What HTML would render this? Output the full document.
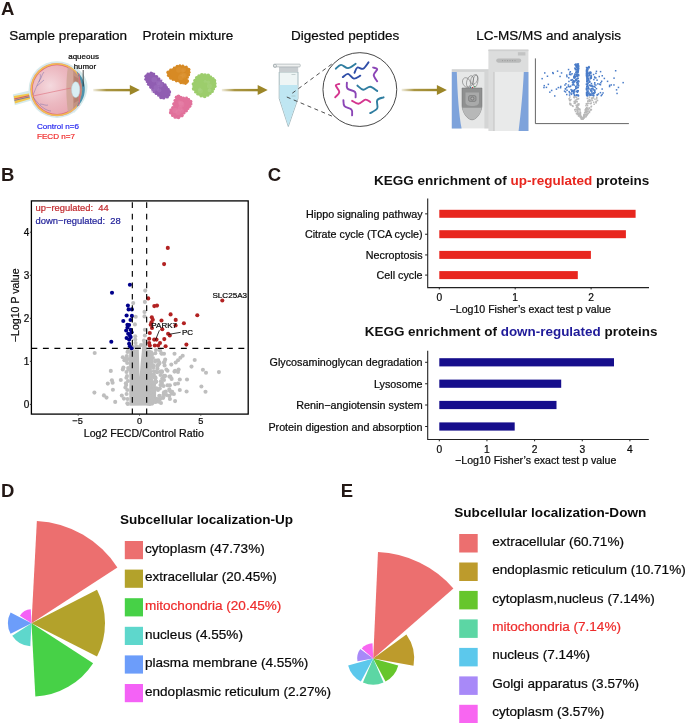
<!DOCTYPE html>
<html><head><meta charset="utf-8"><style>
html,body{margin:0;padding:0;background:#fff;}
svg{display:block;font-family:"Liberation Sans", sans-serif;will-change:transform;}
</style></head><body>
<svg width="685" height="723" viewBox="0 0 685 723">
<rect width="685" height="723" fill="#fff"/>
<text x="1.00" y="14.50" font-size="18.5" fill="#231815" font-weight="bold" text-anchor="start" >A</text>
<text x="9.20" y="40.40" font-size="13.5" fill="#0a0a0a" font-weight="normal" text-anchor="start" stroke="#0a0a0a" stroke-width="0.22" >Sample preparation</text>
<text x="142.60" y="40.40" font-size="13.5" fill="#0a0a0a" font-weight="normal" text-anchor="start" stroke="#0a0a0a" stroke-width="0.22" >Protein mixture</text>
<text x="291.10" y="40.40" font-size="13.5" fill="#0a0a0a" font-weight="normal" text-anchor="start" stroke="#0a0a0a" stroke-width="0.22" >Digested peptides</text>
<text x="476.30" y="40.40" font-size="13.5" fill="#0a0a0a" font-weight="normal" text-anchor="start" stroke="#0a0a0a" stroke-width="0.22" >LC-MS/MS and analysis</text>
<defs><linearGradient id="arrg" x1="0" x2="1" y1="0" y2="0"><stop offset="0" stop-color="#a08a2e" stop-opacity="0.15"/><stop offset="0.35" stop-color="#a08a2e" stop-opacity="0.9"/><stop offset="1" stop-color="#9c8628"/></linearGradient></defs>
<rect x="93.2" y="88.9" width="37.6" height="2.4" fill="url(#arrg)"/>
<path d="M129.8,85.1 L139.8,90.1 L129.8,95.1 Z" fill="#9c8628"/>
<rect x="221.8" y="88.9" width="36.9" height="2.4" fill="url(#arrg)"/>
<path d="M257.7,85.1 L267.7,90.1 L257.7,95.1 Z" fill="#9c8628"/>
<rect x="401.6" y="88.8" width="36.3" height="2.4" fill="url(#arrg)"/>
<path d="M436.9,85.0 L446.9,90.0 L436.9,95.0 Z" fill="#9c8628"/>
<defs><radialGradient id="eyeg" cx="0.36" cy="0.42" r="0.62"><stop offset="0" stop-color="#f4d9de"/><stop offset="0.6" stop-color="#ecb9c1"/><stop offset="1" stop-color="#e8aab4"/></radialGradient><clipPath id="eyeclip"><circle cx="57.0" cy="89.6" r="25.2"/></clipPath></defs>
<path d="M12.8,94.6 L29.5,90.6 L32,100.2 L14.8,105.2 Z" fill="#d6eaeb"/>
<path d="M13.8,96.1 L30.5,93.2 L31.6,98.4 L15,103.4 Z" fill="#f3c64c"/>
<line x1="14.2" y1="99.0" x2="31" y2="95.2" stroke="#cc5a72" stroke-width="1.1"/>
<line x1="14.4" y1="100.4" x2="31" y2="96.6" stroke="#5d5fb0" stroke-width="0.8"/>
<path d="M74,66 C84,72 89,82 87.2,90 C86,99 81,106 74,113 Z" fill="#d6eaeb"/>
<circle cx="57.0" cy="89.6" r="28.4" fill="#d6eaeb"/>
<circle cx="57.0" cy="89.6" r="26.7" fill="#e88890"/>
<circle cx="57.0" cy="89.6" r="26.3" fill="#f2c44c"/>
<path d="M57.0,89.6 m22,-13 a25.5,25.5 0 0 1 0,26 Z" fill="#e27680"/>
<circle cx="57.0" cy="89.6" r="25.0" fill="#e06c78"/>
<circle cx="57.0" cy="89.6" r="24.3" fill="url(#eyeg)"/>
<path d="M76.5,71 C82,76 85.3,83 84.8,90 C84.4,97 82,102 76.5,107.5 C80,100 80.5,80 76.5,71 Z" fill="#4d93ad"/>
<g clip-path="url(#eyeclip)"><path d="M69,62 C65.5,75 65.5,103 69,117 L90,117 L90,62 Z" fill="#cfa496" opacity="0.85"/><path d="M74,62 C72.5,75 72.5,103 74,117 L90,117 L90,62 Z" fill="#b98572" opacity="0.6"/><path d="M74,76 L78.5,78.5 L78.5,82 L74.5,82.5 Z M74,103 L78.5,100.5 L78.5,97 L74.5,96.5 Z" fill="#a87060" opacity="0.5"/></g>
<path d="M78.6,73 C80.5,80 80.5,99 78.6,106" stroke="#e06a78" stroke-width="1" fill="none"/>
<ellipse cx="75.7" cy="89.7" rx="4.1" ry="7.9" fill="#d9edf3" stroke="#b5d4de" stroke-width="0.5"/>
<path d="M33,96 L71,88" stroke="#dd6474" stroke-width="0.55" fill="none"/>
<path d="M33,95 C36,88 38,82 41,78 C42,75 43,73 44,72 M37,86 C39,84 42,82 44,80 M39,82 C40,79 41,76 40,74 M33,97 C37,102 40,106 45,109 C47,110 49,111 51,111 M40,104 C43,104 46,106 48,105" stroke="#6b62a8" stroke-width="0.5" fill="none" opacity="0.85"/>
<text x="68.20" y="58.90" font-size="8.0" fill="#0a0a0a" font-weight="normal" text-anchor="start" stroke="#0a0a0a" stroke-width="0.22" >aqueous</text>
<text x="73.70" y="68.70" font-size="7.9" fill="#0a0a0a" font-weight="normal" text-anchor="start" stroke="#0a0a0a" stroke-width="0.22" >humor</text>
<line x1="83.2" y1="70" x2="83.2" y2="86.5" stroke="#222" stroke-width="0.8"/>
<text x="37.00" y="129.00" font-size="8.1" fill="#2e2ef0" font-weight="normal" text-anchor="start" stroke="#2e2ef0" stroke-width="0.22" >Control n=6</text>
<text x="37.00" y="138.80" font-size="8.1" fill="#f02e2e" font-weight="normal" text-anchor="start" stroke="#f02e2e" stroke-width="0.22" >FECD n=7</text>
<path d="M146.4,74.3 L152.5,72.6 L157.8,78.0 L163.9,84.1 L169.3,90.6 L168.8,96.1 L162.1,98.5 L157.2,94.4 L151.9,88.5 L147.5,82.9 L145.6,78.0 Z" fill="#905db2" stroke="#905db2" stroke-width="0.8" stroke-linejoin="round"/>
<circle cx="147.9" cy="73.9" r="1.4" fill="#905db2"/>
<circle cx="151.0" cy="73.1" r="1.6" fill="#905db2"/>
<circle cx="153.8" cy="74.0" r="1.5" fill="#905db2"/>
<circle cx="156.5" cy="76.6" r="1.7" fill="#905db2"/>
<circle cx="158.8" cy="79.0" r="1.7" fill="#905db2"/>
<circle cx="160.9" cy="81.0" r="1.3" fill="#905db2"/>
<circle cx="162.9" cy="83.1" r="1.2" fill="#905db2"/>
<circle cx="164.8" cy="85.2" r="1.9" fill="#905db2"/>
<circle cx="166.6" cy="87.4" r="1.4" fill="#905db2"/>
<circle cx="168.4" cy="89.5" r="1.4" fill="#905db2"/>
<circle cx="169.2" cy="92.0" r="2.0" fill="#905db2"/>
<circle cx="168.9" cy="94.8" r="1.6" fill="#905db2"/>
<circle cx="167.1" cy="96.7" r="1.9" fill="#905db2"/>
<circle cx="163.8" cy="97.9" r="1.6" fill="#905db2"/>
<circle cx="160.9" cy="97.5" r="1.7" fill="#905db2"/>
<circle cx="158.4" cy="95.4" r="1.3" fill="#905db2"/>
<circle cx="156.3" cy="93.4" r="1.7" fill="#905db2"/>
<circle cx="154.5" cy="91.4" r="1.9" fill="#905db2"/>
<circle cx="152.8" cy="89.5" r="1.6" fill="#905db2"/>
<circle cx="150.8" cy="87.1" r="1.8" fill="#905db2"/>
<circle cx="148.6" cy="84.3" r="1.7" fill="#905db2"/>
<circle cx="147.0" cy="81.7" r="1.3" fill="#905db2"/>
<circle cx="146.1" cy="79.2" r="1.8" fill="#905db2"/>
<circle cx="146.0" cy="76.2" r="1.7" fill="#905db2"/>
<circle cx="154.2" cy="79.7" r="2.8" fill="#a57ac6" opacity="0.35"/>
<circle cx="156.3" cy="87.9" r="2.8" fill="#a57ac6" opacity="0.35"/>
<circle cx="159.2" cy="90.3" r="2.1" fill="#a57ac6" opacity="0.35"/>
<circle cx="160.2" cy="84.6" r="2.9" fill="#a57ac6" opacity="0.35"/>
<circle cx="161.2" cy="80.5" r="1.7" fill="#a57ac6" opacity="0.35"/>
<circle cx="153.2" cy="90.9" r="2.2" fill="#a57ac6" opacity="0.35"/>
<circle cx="158.2" cy="82.9" r="2.3" fill="#a57ac6" opacity="0.35"/>
<path d="M168.4,71.2 L172.7,68.4 L178.5,65.5 L184.2,66.0 L188.4,68.2 L188.9,73.6 L187.0,78.7 L188.0,83.0 L183.1,84.0 L178.5,81.9 L174.0,80.3 L169.8,77.0 L167.8,73.5 Z" fill="#d78a24" stroke="#d78a24" stroke-width="0.8" stroke-linejoin="round"/>
<circle cx="170.6" cy="69.8" r="1.4" fill="#d78a24"/>
<circle cx="174.2" cy="67.7" r="1.3" fill="#d78a24"/>
<circle cx="177.1" cy="66.2" r="1.5" fill="#d78a24"/>
<circle cx="179.9" cy="65.6" r="1.3" fill="#d78a24"/>
<circle cx="182.8" cy="65.9" r="1.3" fill="#d78a24"/>
<circle cx="186.3" cy="67.1" r="1.5" fill="#d78a24"/>
<circle cx="188.6" cy="69.6" r="1.9" fill="#d78a24"/>
<circle cx="188.8" cy="72.2" r="1.8" fill="#d78a24"/>
<circle cx="188.4" cy="74.8" r="1.8" fill="#d78a24"/>
<circle cx="187.5" cy="77.4" r="1.4" fill="#d78a24"/>
<circle cx="187.5" cy="80.9" r="1.6" fill="#d78a24"/>
<circle cx="185.5" cy="83.5" r="1.4" fill="#d78a24"/>
<circle cx="180.8" cy="83.0" r="1.3" fill="#d78a24"/>
<circle cx="176.3" cy="81.1" r="1.3" fill="#d78a24"/>
<circle cx="172.9" cy="79.5" r="1.4" fill="#d78a24"/>
<circle cx="170.8" cy="77.8" r="1.9" fill="#d78a24"/>
<circle cx="168.8" cy="75.3" r="1.9" fill="#d78a24"/>
<circle cx="168.1" cy="72.4" r="1.8" fill="#d78a24"/>
<circle cx="182.8" cy="71.0" r="2.0" fill="#e09a40" opacity="0.35"/>
<circle cx="180.7" cy="77.5" r="2.8" fill="#e09a40" opacity="0.35"/>
<circle cx="183.7" cy="69.8" r="2.4" fill="#e09a40" opacity="0.35"/>
<circle cx="181.2" cy="74.8" r="1.8" fill="#e09a40" opacity="0.35"/>
<circle cx="178.9" cy="69.8" r="2.9" fill="#e09a40" opacity="0.35"/>
<circle cx="183.6" cy="75.3" r="2.0" fill="#e09a40" opacity="0.35"/>
<circle cx="184.1" cy="75.6" r="2.8" fill="#e09a40" opacity="0.35"/>
<path d="M194.0,81.8 L197.5,76.5 L203.4,74.7 L209.8,75.8 L214.0,79.4 L215.2,84.7 L213.3,90.5 L209.2,94.6 L203.4,97.1 L198.7,95.3 L194.6,91.1 L192.8,86.4 Z" fill="#9ccd6c" stroke="#9ccd6c" stroke-width="0.8" stroke-linejoin="round"/>
<circle cx="194.9" cy="80.5" r="1.7" fill="#9ccd6c"/>
<circle cx="196.7" cy="77.8" r="1.8" fill="#9ccd6c"/>
<circle cx="199.0" cy="76.0" r="1.8" fill="#9ccd6c"/>
<circle cx="201.9" cy="75.1" r="2.0" fill="#9ccd6c"/>
<circle cx="205.0" cy="75.0" r="1.8" fill="#9ccd6c"/>
<circle cx="208.2" cy="75.5" r="1.9" fill="#9ccd6c"/>
<circle cx="210.9" cy="76.7" r="1.2" fill="#9ccd6c"/>
<circle cx="213.0" cy="78.5" r="1.6" fill="#9ccd6c"/>
<circle cx="214.3" cy="80.7" r="2.0" fill="#9ccd6c"/>
<circle cx="214.9" cy="83.4" r="1.7" fill="#9ccd6c"/>
<circle cx="214.7" cy="86.2" r="1.9" fill="#9ccd6c"/>
<circle cx="213.8" cy="89.1" r="1.3" fill="#9ccd6c"/>
<circle cx="212.3" cy="91.5" r="1.6" fill="#9ccd6c"/>
<circle cx="210.3" cy="93.6" r="1.4" fill="#9ccd6c"/>
<circle cx="207.8" cy="95.2" r="1.6" fill="#9ccd6c"/>
<circle cx="204.8" cy="96.5" r="1.7" fill="#9ccd6c"/>
<circle cx="201.0" cy="96.2" r="1.2" fill="#9ccd6c"/>
<circle cx="197.7" cy="94.2" r="1.4" fill="#9ccd6c"/>
<circle cx="195.6" cy="92.2" r="1.4" fill="#9ccd6c"/>
<circle cx="193.7" cy="88.8" r="1.9" fill="#9ccd6c"/>
<circle cx="193.4" cy="84.1" r="1.8" fill="#9ccd6c"/>
<circle cx="199.7" cy="89.2" r="1.7" fill="#b0d88a" opacity="0.35"/>
<circle cx="205.2" cy="81.2" r="1.5" fill="#b0d88a" opacity="0.35"/>
<circle cx="208.3" cy="82.2" r="1.8" fill="#b0d88a" opacity="0.35"/>
<circle cx="209.6" cy="90.1" r="1.9" fill="#b0d88a" opacity="0.35"/>
<circle cx="209.4" cy="86.1" r="2.5" fill="#b0d88a" opacity="0.35"/>
<circle cx="200.3" cy="90.9" r="2.5" fill="#b0d88a" opacity="0.35"/>
<circle cx="209.4" cy="90.4" r="1.9" fill="#b0d88a" opacity="0.35"/>
<path d="M177.3,95.7 L182.0,98.3 L188.0,98.0 L191.6,102.7 L188.9,107.5 L185.3,111.9 L180.9,116.8 L176.1,118.2 L171.5,114.5 L169.7,111.0 L173.7,106.3 L174.1,101.9 Z" fill="#e1719b" stroke="#e1719b" stroke-width="0.8" stroke-linejoin="round"/>
<circle cx="178.5" cy="96.3" r="1.8" fill="#e1719b"/>
<circle cx="180.8" cy="97.6" r="1.9" fill="#e1719b"/>
<circle cx="183.5" cy="98.2" r="1.6" fill="#e1719b"/>
<circle cx="186.5" cy="98.0" r="1.4" fill="#e1719b"/>
<circle cx="188.9" cy="99.2" r="1.2" fill="#e1719b"/>
<circle cx="190.7" cy="101.5" r="1.7" fill="#e1719b"/>
<circle cx="190.9" cy="103.9" r="1.6" fill="#e1719b"/>
<circle cx="189.6" cy="106.3" r="1.8" fill="#e1719b"/>
<circle cx="188.0" cy="108.6" r="1.5" fill="#e1719b"/>
<circle cx="186.2" cy="110.8" r="1.8" fill="#e1719b"/>
<circle cx="184.2" cy="113.1" r="1.4" fill="#e1719b"/>
<circle cx="182.0" cy="115.6" r="1.8" fill="#e1719b"/>
<circle cx="178.5" cy="117.5" r="1.8" fill="#e1719b"/>
<circle cx="175.0" cy="117.3" r="1.5" fill="#e1719b"/>
<circle cx="172.6" cy="115.4" r="1.6" fill="#e1719b"/>
<circle cx="170.6" cy="112.8" r="1.7" fill="#e1719b"/>
<circle cx="170.7" cy="109.8" r="1.4" fill="#e1719b"/>
<circle cx="172.7" cy="107.5" r="1.6" fill="#e1719b"/>
<circle cx="173.9" cy="104.1" r="1.8" fill="#e1719b"/>
<circle cx="174.9" cy="100.3" r="1.4" fill="#e1719b"/>
<circle cx="176.5" cy="97.2" r="1.8" fill="#e1719b"/>
<circle cx="182.1" cy="111.0" r="2.0" fill="#e888ac" opacity="0.35"/>
<circle cx="175.0" cy="110.5" r="2.7" fill="#e888ac" opacity="0.35"/>
<circle cx="179.3" cy="102.0" r="1.8" fill="#e888ac" opacity="0.35"/>
<circle cx="181.5" cy="104.4" r="2.9" fill="#e888ac" opacity="0.35"/>
<circle cx="181.0" cy="103.3" r="2.5" fill="#e888ac" opacity="0.35"/>
<circle cx="178.2" cy="112.1" r="2.9" fill="#e888ac" opacity="0.35"/>
<circle cx="180.1" cy="108.6" r="2.5" fill="#e888ac" opacity="0.35"/>
<path d="M279.2,72 L298,72 L298,98.5 L288.3,126.5 L279.2,98.5 Z" fill="#eef5f5" stroke="#93a9b0" stroke-width="0.8"/>
<path d="M279.6,85.1 L297.6,85.1 L297.6,98.5 L288.3,125.8 L279.6,98.5 Z" fill="#bfe6f2"/>
<rect x="279" y="66.9" width="19.2" height="5.2" fill="#c8cdd0"/>
<rect x="273.5" y="64.1" width="26.8" height="2.8" rx="1" fill="#eef0f0" stroke="#9aa4a8" stroke-width="0.6"/>
<circle cx="275" cy="66" r="1.6" fill="none" stroke="#9aa4a8" stroke-width="0.6"/>
<line x1="291.5" y1="74.5" x2="295.5" y2="74.5" stroke="#9aa" stroke-width="0.5"/>
<line x1="291.5" y1="96" x2="295.5" y2="96" stroke="#9aa" stroke-width="0.5"/>
<line x1="292.3" y1="93.2" x2="333.5" y2="62.8" stroke="#3a3a3a" stroke-width="0.9" stroke-dasharray="4,3.5"/>
<line x1="286.8" y1="97" x2="334.5" y2="117.2" stroke="#3a3a3a" stroke-width="0.9" stroke-dasharray="4,3.5"/>
<circle cx="359.85" cy="89.55" r="36.9" fill="#fff" stroke="#333" stroke-width="0.9"/>
<path d="M335.8,68.7 C336.7,68.1 339.0,65.0 341,64.9 C343.0,64.8 345.6,68.3 348,68.1 C350.4,67.9 354.3,64.5 355.6,63.8" fill="none" stroke="#2f7da0" stroke-width="1.9" stroke-linecap="round"/>
<path d="M354.5,72.8 C355.0,71.9 355.9,68.2 357.4,67.5 C358.8,66.8 361.3,69.6 363.2,68.7 C365.1,67.8 367.6,63.4 368.5,62.3" fill="none" stroke="#2f4ea8" stroke-width="1.9" stroke-linecap="round"/>
<path d="M373.1,67.5 C373.8,67.8 377.1,68.0 377.2,69.3 C377.3,70.6 373.7,73.1 373.7,75.1 C373.7,77.1 376.6,80.3 377.2,81.3" fill="none" stroke="#8b45b6" stroke-width="1.9" stroke-linecap="round"/>
<path d="M342.8,77.1 C343.7,76.6 346.1,73.7 348,73.9 C349.9,74.2 351.8,78.3 353.9,78.6 C355.9,78.9 359.2,76.2 360.3,75.7" fill="none" stroke="#2f4ea8" stroke-width="1.9" stroke-linecap="round"/>
<path d="M339.3,83.9 C338.7,84.2 335.8,84.2 335.8,85.6 C335.8,86.9 339.4,90.0 339.3,92 C339.2,94.0 335.9,96.4 335.2,97.3" fill="none" stroke="#d4358e" stroke-width="1.9" stroke-linecap="round"/>
<path d="M346.9,82.7 C347.0,83.7 346.0,87.0 347.4,88.5 C348.8,90.0 353.6,90.5 355,92 C356.4,93.5 355.5,96.4 355.6,97.3" fill="none" stroke="#8b45b6" stroke-width="1.9" stroke-linecap="round"/>
<path d="M357.4,85.6 C358.4,86.3 361.1,89.5 363.2,89.7 C365.3,89.9 367.9,86.6 370.2,86.8 C372.5,87.0 376.0,90.2 377.2,90.9" fill="none" stroke="#2f7da0" stroke-width="1.9" stroke-linecap="round"/>
<path d="M343.4,100.2 C343.6,101.2 343.1,104.5 344.5,106.1 C345.9,107.7 350.2,108.0 351.5,109.6 C352.8,111.1 352.0,114.4 352.1,115.4" fill="none" stroke="#8b45b6" stroke-width="1.9" stroke-linecap="round"/>
<path d="M352.1,100.8 C353.2,101.3 356.3,103.9 358.5,103.7 C360.7,103.5 363.6,99.9 365.5,99.6 C367.4,99.3 369.4,101.6 370.2,102" fill="none" stroke="#d4358e" stroke-width="1.9" stroke-linecap="round"/>
<path d="M383.6,97.3 C382.5,97.8 378.3,98.3 377.2,100.2 C376.1,102.1 378.4,106.2 377.2,108.4 C376.0,110.6 371.4,112.3 370.2,113.1" fill="none" stroke="#2f7da0" stroke-width="1.9" stroke-linecap="round"/>
<rect x="451.8" y="69.3" width="37.2" height="59.1" fill="#e6e7e7"/>
<rect x="451.8" y="69.3" width="37.2" height="2.6" fill="#d2d3d3"/>
<rect x="484.4" y="71.9" width="4.6" height="56.5" fill="#d4d5d5"/>
<path d="M451.8,71.9 L456.8,71.9 C457.5,95 459,115 461.6,128.4 L451.8,128.4 Z" fill="#7ea3db"/>
<path d="M462,88 L482,88 L482,106 C481,114 476,119.8 472.1,119.8 C468,119.8 463,114 462,106 Z" fill="#8f9090" stroke="#707070" stroke-width="0.5"/>
<path d="M462.3,107.7 L481.7,107.7 C480.5,114.5 476,119.5 472.1,119.5 C468.2,119.5 463.5,114.5 462.3,107.7 Z" fill="#b7b8b8"/>
<path d="M465.5,92.5 L479,92.5 L479,102 C479,105 476,106 472.3,106 C468.5,106 465.5,105 465.5,102 Z" fill="#a9aaaa"/>
<rect x="468.6" y="95.6" width="7.4" height="5.8" rx="1.5" fill="#9c9d9d" stroke="#666" stroke-width="0.5"/>
<circle cx="472.3" cy="98.5" r="1.5" fill="#b0b0b0" stroke="#555" stroke-width="0.5"/>
<g fill="none" stroke="#5a5a5a" stroke-width="0.45"><ellipse cx="466.5" cy="82.5" rx="3.8" ry="5" transform="rotate(-25 466.5 82.5)"/><ellipse cx="470" cy="81.5" rx="3.2" ry="6" transform="rotate(18 470 81.5)"/><ellipse cx="474.2" cy="79.5" rx="3.2" ry="5" transform="rotate(22 474.2 79.5)"/><ellipse cx="475.5" cy="81" rx="2.4" ry="6.2" transform="rotate(8 475.5 81)"/></g>
<circle cx="470.6" cy="87.4" r="0.7" fill="#3c8aa0"/><circle cx="472.6" cy="87.6" r="0.7" fill="#b03030"/><circle cx="474.8" cy="86.6" r="0.7" fill="#3a9a4a"/>
<rect x="488.4" y="49.6" width="40" height="81.4" fill="#dcdddd"/>
<rect x="488.4" y="49.6" width="40" height="1.5" fill="#cfd0d0"/>
<rect x="494.3" y="71.9" width="34.1" height="59.1" fill="#e9eaea"/>
<rect x="493.6" y="71.9" width="0.8" height="59.1" fill="#bdbdbd"/>
<path d="M523.8,71.9 L528.4,71.9 L528.4,131 L518.6,131 C521,112 523,90 523.8,71.9 Z" fill="#7ea3db"/>
<rect x="496.2" y="58.5" width="25" height="4.2" rx="2.1" fill="#b9baba"/>
<line x1="502" y1="60.6" x2="516" y2="60.6" stroke="#888" stroke-width="0.6" stroke-dasharray="1,1.5"/>
<rect x="517.9" y="52.2" width="7.5" height="3.3" fill="#c2c3c3"/>
<path d="M535.4,58.4 L535.4,123.6 L628.9,123.6" fill="none" stroke="#555" stroke-width="0.9"/>
<rect x="577.6" y="73.7" width="1.5" height="1.5" fill="#4a7cc8"/>
<rect x="577.7" y="84.3" width="1.5" height="1.5" fill="#4a7cc8"/>
<rect x="576.6" y="80.6" width="1.5" height="1.5" fill="#4a7cc8"/>
<rect x="576.4" y="65.0" width="1.5" height="1.5" fill="#4a7cc8"/>
<rect x="576.7" y="64.4" width="1.5" height="1.5" fill="#4a7cc8"/>
<rect x="577.7" y="65.4" width="1.5" height="1.5" fill="#4a7cc8"/>
<rect x="573.8" y="76.9" width="1.5" height="1.5" fill="#4a7cc8"/>
<rect x="577.4" y="67.2" width="1.5" height="1.5" fill="#4a7cc8"/>
<rect x="572.2" y="83.5" width="1.5" height="1.5" fill="#4a7cc8"/>
<rect x="576.4" y="81.9" width="1.5" height="1.5" fill="#4a7cc8"/>
<rect x="577.8" y="94.9" width="1.5" height="1.5" fill="#4a7cc8"/>
<rect x="576.8" y="91.1" width="1.5" height="1.5" fill="#4a7cc8"/>
<rect x="577.7" y="67.8" width="1.5" height="1.5" fill="#4a7cc8"/>
<rect x="574.2" y="73.2" width="1.5" height="1.5" fill="#4a7cc8"/>
<rect x="575.9" y="69.0" width="1.5" height="1.5" fill="#4a7cc8"/>
<rect x="576.5" y="83.9" width="1.5" height="1.5" fill="#4a7cc8"/>
<rect x="577.8" y="81.0" width="1.5" height="1.5" fill="#4a7cc8"/>
<rect x="577.5" y="65.1" width="1.5" height="1.5" fill="#4a7cc8"/>
<rect x="576.1" y="85.3" width="1.5" height="1.5" fill="#4a7cc8"/>
<rect x="575.6" y="73.4" width="1.5" height="1.5" fill="#4a7cc8"/>
<rect x="577.0" y="77.9" width="1.5" height="1.5" fill="#4a7cc8"/>
<rect x="573.9" y="89.0" width="1.5" height="1.5" fill="#4a7cc8"/>
<rect x="575.8" y="71.1" width="1.5" height="1.5" fill="#4a7cc8"/>
<rect x="573.2" y="80.2" width="1.5" height="1.5" fill="#4a7cc8"/>
<rect x="576.8" y="86.9" width="1.5" height="1.5" fill="#4a7cc8"/>
<rect x="577.5" y="95.0" width="1.5" height="1.5" fill="#4a7cc8"/>
<rect x="574.3" y="76.7" width="1.5" height="1.5" fill="#4a7cc8"/>
<rect x="576.4" y="68.1" width="1.5" height="1.5" fill="#4a7cc8"/>
<rect x="575.7" y="64.4" width="1.5" height="1.5" fill="#4a7cc8"/>
<rect x="575.0" y="88.0" width="1.5" height="1.5" fill="#4a7cc8"/>
<rect x="576.6" y="91.6" width="1.5" height="1.5" fill="#4a7cc8"/>
<rect x="574.9" y="85.7" width="1.5" height="1.5" fill="#4a7cc8"/>
<rect x="576.0" y="82.0" width="1.5" height="1.5" fill="#4a7cc8"/>
<rect x="571.5" y="90.4" width="1.5" height="1.5" fill="#4a7cc8"/>
<rect x="574.9" y="78.6" width="1.5" height="1.5" fill="#4a7cc8"/>
<rect x="575.5" y="65.1" width="1.5" height="1.5" fill="#4a7cc8"/>
<rect x="571.7" y="84.2" width="1.5" height="1.5" fill="#4a7cc8"/>
<rect x="576.8" y="89.9" width="1.5" height="1.5" fill="#4a7cc8"/>
<rect x="575.0" y="75.7" width="1.5" height="1.5" fill="#4a7cc8"/>
<rect x="576.6" y="63.9" width="1.5" height="1.5" fill="#4a7cc8"/>
<rect x="577.7" y="68.6" width="1.5" height="1.5" fill="#4a7cc8"/>
<rect x="575.2" y="65.1" width="1.5" height="1.5" fill="#4a7cc8"/>
<rect x="577.3" y="67.4" width="1.5" height="1.5" fill="#4a7cc8"/>
<rect x="573.6" y="75.9" width="1.5" height="1.5" fill="#4a7cc8"/>
<rect x="576.6" y="65.8" width="1.5" height="1.5" fill="#4a7cc8"/>
<rect x="573.0" y="81.0" width="1.5" height="1.5" fill="#4a7cc8"/>
<rect x="572.4" y="89.8" width="1.5" height="1.5" fill="#4a7cc8"/>
<rect x="576.6" y="72.2" width="1.5" height="1.5" fill="#4a7cc8"/>
<rect x="573.6" y="74.8" width="1.5" height="1.5" fill="#4a7cc8"/>
<rect x="577.4" y="94.3" width="1.5" height="1.5" fill="#4a7cc8"/>
<rect x="577.4" y="68.9" width="1.5" height="1.5" fill="#4a7cc8"/>
<rect x="576.3" y="70.7" width="1.5" height="1.5" fill="#4a7cc8"/>
<rect x="577.0" y="82.3" width="1.5" height="1.5" fill="#4a7cc8"/>
<rect x="576.8" y="63.3" width="1.5" height="1.5" fill="#4a7cc8"/>
<rect x="575.7" y="75.2" width="1.5" height="1.5" fill="#4a7cc8"/>
<rect x="573.6" y="94.1" width="1.5" height="1.5" fill="#4a7cc8"/>
<rect x="575.1" y="79.9" width="1.5" height="1.5" fill="#4a7cc8"/>
<rect x="577.8" y="85.1" width="1.5" height="1.5" fill="#4a7cc8"/>
<rect x="572.9" y="92.4" width="1.5" height="1.5" fill="#4a7cc8"/>
<rect x="572.8" y="91.6" width="1.5" height="1.5" fill="#4a7cc8"/>
<rect x="576.5" y="75.9" width="1.5" height="1.5" fill="#4a7cc8"/>
<rect x="575.8" y="66.5" width="1.5" height="1.5" fill="#4a7cc8"/>
<rect x="577.8" y="65.2" width="1.5" height="1.5" fill="#4a7cc8"/>
<rect x="577.6" y="69.9" width="1.5" height="1.5" fill="#4a7cc8"/>
<rect x="577.8" y="74.2" width="1.5" height="1.5" fill="#4a7cc8"/>
<rect x="577.6" y="63.2" width="1.5" height="1.5" fill="#4a7cc8"/>
<rect x="576.9" y="66.4" width="1.5" height="1.5" fill="#4a7cc8"/>
<rect x="574.7" y="64.0" width="1.5" height="1.5" fill="#4a7cc8"/>
<rect x="577.5" y="83.1" width="1.5" height="1.5" fill="#4a7cc8"/>
<rect x="576.9" y="71.3" width="1.5" height="1.5" fill="#4a7cc8"/>
<rect x="577.6" y="75.0" width="1.5" height="1.5" fill="#4a7cc8"/>
<rect x="571.0" y="90.7" width="1.5" height="1.5" fill="#4a7cc8"/>
<rect x="576.0" y="78.3" width="1.5" height="1.5" fill="#4a7cc8"/>
<rect x="577.7" y="65.9" width="1.5" height="1.5" fill="#4a7cc8"/>
<rect x="577.2" y="74.3" width="1.5" height="1.5" fill="#4a7cc8"/>
<rect x="577.4" y="90.1" width="1.5" height="1.5" fill="#4a7cc8"/>
<rect x="574.3" y="63.9" width="1.5" height="1.5" fill="#4a7cc8"/>
<rect x="577.5" y="80.3" width="1.5" height="1.5" fill="#4a7cc8"/>
<rect x="577.8" y="80.8" width="1.5" height="1.5" fill="#4a7cc8"/>
<rect x="572.3" y="80.3" width="1.5" height="1.5" fill="#4a7cc8"/>
<rect x="573.8" y="91.2" width="1.5" height="1.5" fill="#4a7cc8"/>
<rect x="576.8" y="71.6" width="1.5" height="1.5" fill="#4a7cc8"/>
<rect x="574.9" y="68.6" width="1.5" height="1.5" fill="#4a7cc8"/>
<rect x="573.9" y="80.5" width="1.5" height="1.5" fill="#4a7cc8"/>
<rect x="577.3" y="73.9" width="1.5" height="1.5" fill="#4a7cc8"/>
<rect x="571.2" y="89.5" width="1.5" height="1.5" fill="#4a7cc8"/>
<rect x="572.8" y="90.9" width="1.5" height="1.5" fill="#4a7cc8"/>
<rect x="573.5" y="89.7" width="1.5" height="1.5" fill="#4a7cc8"/>
<rect x="576.1" y="70.5" width="1.5" height="1.5" fill="#4a7cc8"/>
<rect x="577.8" y="74.7" width="1.5" height="1.5" fill="#4a7cc8"/>
<rect x="577.3" y="64.1" width="1.5" height="1.5" fill="#4a7cc8"/>
<rect x="575.1" y="71.6" width="1.5" height="1.5" fill="#4a7cc8"/>
<rect x="575.7" y="94.2" width="1.5" height="1.5" fill="#4a7cc8"/>
<rect x="570.7" y="93.6" width="1.5" height="1.5" fill="#4a7cc8"/>
<rect x="576.2" y="94.2" width="1.5" height="1.5" fill="#4a7cc8"/>
<rect x="577.4" y="70.3" width="1.5" height="1.5" fill="#4a7cc8"/>
<rect x="577.4" y="69.5" width="1.5" height="1.5" fill="#4a7cc8"/>
<rect x="572.6" y="83.4" width="1.5" height="1.5" fill="#4a7cc8"/>
<rect x="575.6" y="90.5" width="1.5" height="1.5" fill="#4a7cc8"/>
<rect x="573.4" y="84.4" width="1.5" height="1.5" fill="#4a7cc8"/>
<rect x="575.7" y="65.9" width="1.5" height="1.5" fill="#4a7cc8"/>
<rect x="572.9" y="92.7" width="1.5" height="1.5" fill="#4a7cc8"/>
<rect x="575.7" y="87.5" width="1.5" height="1.5" fill="#4a7cc8"/>
<rect x="574.8" y="69.0" width="1.5" height="1.5" fill="#4a7cc8"/>
<rect x="574.3" y="74.0" width="1.5" height="1.5" fill="#4a7cc8"/>
<rect x="576.0" y="94.7" width="1.5" height="1.5" fill="#4a7cc8"/>
<rect x="573.0" y="76.2" width="1.5" height="1.5" fill="#4a7cc8"/>
<rect x="577.4" y="86.7" width="1.5" height="1.5" fill="#4a7cc8"/>
<rect x="577.6" y="67.3" width="1.5" height="1.5" fill="#4a7cc8"/>
<rect x="572.7" y="92.6" width="1.5" height="1.5" fill="#4a7cc8"/>
<rect x="574.6" y="67.9" width="1.5" height="1.5" fill="#4a7cc8"/>
<rect x="573.9" y="95.0" width="1.5" height="1.5" fill="#4a7cc8"/>
<rect x="575.8" y="74.5" width="1.5" height="1.5" fill="#4a7cc8"/>
<rect x="577.8" y="67.4" width="1.5" height="1.5" fill="#4a7cc8"/>
<rect x="574.0" y="94.7" width="1.5" height="1.5" fill="#4a7cc8"/>
<rect x="572.7" y="80.3" width="1.5" height="1.5" fill="#4a7cc8"/>
<rect x="573.5" y="77.2" width="1.5" height="1.5" fill="#4a7cc8"/>
<rect x="577.2" y="90.0" width="1.5" height="1.5" fill="#4a7cc8"/>
<rect x="577.1" y="71.3" width="1.5" height="1.5" fill="#4a7cc8"/>
<rect x="575.8" y="71.0" width="1.5" height="1.5" fill="#4a7cc8"/>
<rect x="576.6" y="71.6" width="1.5" height="1.5" fill="#4a7cc8"/>
<rect x="574.2" y="67.4" width="1.5" height="1.5" fill="#4a7cc8"/>
<rect x="576.3" y="74.6" width="1.5" height="1.5" fill="#4a7cc8"/>
<rect x="572.7" y="82.1" width="1.5" height="1.5" fill="#4a7cc8"/>
<rect x="573.2" y="76.8" width="1.5" height="1.5" fill="#4a7cc8"/>
<rect x="575.7" y="79.5" width="1.5" height="1.5" fill="#4a7cc8"/>
<rect x="577.8" y="80.2" width="1.5" height="1.5" fill="#4a7cc8"/>
<rect x="577.4" y="77.5" width="1.5" height="1.5" fill="#4a7cc8"/>
<rect x="575.2" y="63.3" width="1.5" height="1.5" fill="#4a7cc8"/>
<rect x="576.4" y="68.8" width="1.5" height="1.5" fill="#4a7cc8"/>
<rect x="575.2" y="86.7" width="1.5" height="1.5" fill="#4a7cc8"/>
<rect x="576.0" y="73.7" width="1.5" height="1.5" fill="#4a7cc8"/>
<rect x="573.8" y="81.2" width="1.5" height="1.5" fill="#4a7cc8"/>
<rect x="576.1" y="66.6" width="1.5" height="1.5" fill="#4a7cc8"/>
<rect x="577.2" y="71.2" width="1.5" height="1.5" fill="#4a7cc8"/>
<rect x="564.8" y="91.2" width="1.5" height="1.5" fill="#4a7cc8"/>
<rect x="557.6" y="86.8" width="1.5" height="1.5" fill="#4a7cc8"/>
<rect x="566.0" y="93.8" width="1.5" height="1.5" fill="#4a7cc8"/>
<rect x="564.8" y="87.9" width="1.5" height="1.5" fill="#4a7cc8"/>
<rect x="560.0" y="85.7" width="1.5" height="1.5" fill="#4a7cc8"/>
<rect x="564.2" y="84.3" width="1.5" height="1.5" fill="#4a7cc8"/>
<rect x="543.5" y="84.9" width="1.5" height="1.5" fill="#4a7cc8"/>
<rect x="550.9" y="89.7" width="1.5" height="1.5" fill="#4a7cc8"/>
<rect x="568.8" y="94.3" width="1.5" height="1.5" fill="#4a7cc8"/>
<rect x="543.2" y="86.8" width="1.5" height="1.5" fill="#4a7cc8"/>
<rect x="570.4" y="92.4" width="1.5" height="1.5" fill="#4a7cc8"/>
<rect x="566.0" y="74.4" width="1.5" height="1.5" fill="#4a7cc8"/>
<rect x="569.1" y="72.2" width="1.5" height="1.5" fill="#4a7cc8"/>
<rect x="560.8" y="72.2" width="1.5" height="1.5" fill="#4a7cc8"/>
<rect x="549.1" y="91.4" width="1.5" height="1.5" fill="#4a7cc8"/>
<rect x="559.3" y="75.7" width="1.5" height="1.5" fill="#4a7cc8"/>
<rect x="570.3" y="88.9" width="1.5" height="1.5" fill="#4a7cc8"/>
<rect x="541.4" y="77.9" width="1.5" height="1.5" fill="#4a7cc8"/>
<rect x="565.2" y="83.0" width="1.5" height="1.5" fill="#4a7cc8"/>
<rect x="554.0" y="95.2" width="1.5" height="1.5" fill="#4a7cc8"/>
<rect x="566.2" y="75.9" width="1.5" height="1.5" fill="#4a7cc8"/>
<rect x="567.7" y="85.8" width="1.5" height="1.5" fill="#4a7cc8"/>
<rect x="568.0" y="77.1" width="1.5" height="1.5" fill="#4a7cc8"/>
<rect x="571.7" y="90.2" width="1.5" height="1.5" fill="#4a7cc8"/>
<rect x="566.0" y="86.6" width="1.5" height="1.5" fill="#4a7cc8"/>
<rect x="567.8" y="68.8" width="1.5" height="1.5" fill="#4a7cc8"/>
<rect x="564.7" y="88.2" width="1.5" height="1.5" fill="#4a7cc8"/>
<rect x="568.8" y="73.7" width="1.5" height="1.5" fill="#4a7cc8"/>
<rect x="556.8" y="70.4" width="1.5" height="1.5" fill="#4a7cc8"/>
<rect x="570.5" y="79.5" width="1.5" height="1.5" fill="#4a7cc8"/>
<rect x="547.6" y="83.6" width="1.5" height="1.5" fill="#4a7cc8"/>
<rect x="568.9" y="92.1" width="1.5" height="1.5" fill="#4a7cc8"/>
<rect x="546.7" y="75.5" width="1.5" height="1.5" fill="#4a7cc8"/>
<rect x="559.8" y="87.0" width="1.5" height="1.5" fill="#4a7cc8"/>
<rect x="571.3" y="73.0" width="1.5" height="1.5" fill="#4a7cc8"/>
<rect x="566.3" y="89.5" width="1.5" height="1.5" fill="#4a7cc8"/>
<rect x="544.0" y="72.2" width="1.5" height="1.5" fill="#4a7cc8"/>
<rect x="555.7" y="88.4" width="1.5" height="1.5" fill="#4a7cc8"/>
<rect x="552.5" y="72.7" width="1.5" height="1.5" fill="#4a7cc8"/>
<rect x="552.0" y="71.9" width="1.5" height="1.5" fill="#4a7cc8"/>
<rect x="567.7" y="84.3" width="1.5" height="1.5" fill="#4a7cc8"/>
<rect x="545.7" y="86.6" width="1.5" height="1.5" fill="#4a7cc8"/>
<rect x="570.5" y="79.4" width="1.5" height="1.5" fill="#4a7cc8"/>
<rect x="569.1" y="86.0" width="1.5" height="1.5" fill="#4a7cc8"/>
<rect x="570.1" y="73.9" width="1.5" height="1.5" fill="#4a7cc8"/>
<rect x="569.6" y="71.0" width="1.5" height="1.5" fill="#4a7cc8"/>
<rect x="568.2" y="80.7" width="1.5" height="1.5" fill="#4a7cc8"/>
<rect x="568.4" y="90.9" width="1.5" height="1.5" fill="#4a7cc8"/>
<rect x="569.9" y="85.4" width="1.5" height="1.5" fill="#4a7cc8"/>
<rect x="571.7" y="81.6" width="1.5" height="1.5" fill="#4a7cc8"/>
<rect x="571.7" y="78.9" width="1.5" height="1.5" fill="#4a7cc8"/>
<rect x="563.8" y="90.4" width="1.5" height="1.5" fill="#4a7cc8"/>
<rect x="574.5" y="102.0" width="1.5" height="1.5" fill="#b8b8b8"/>
<rect x="581.3" y="117.3" width="1.5" height="1.5" fill="#b8b8b8"/>
<rect x="579.7" y="115.2" width="1.5" height="1.5" fill="#b8b8b8"/>
<rect x="574.1" y="108.9" width="1.5" height="1.5" fill="#b8b8b8"/>
<rect x="575.7" y="106.7" width="1.5" height="1.5" fill="#b8b8b8"/>
<rect x="575.7" y="112.7" width="1.5" height="1.5" fill="#b8b8b8"/>
<rect x="572.2" y="105.6" width="1.5" height="1.5" fill="#b8b8b8"/>
<rect x="577.8" y="113.0" width="1.5" height="1.5" fill="#b8b8b8"/>
<rect x="577.0" y="107.0" width="1.5" height="1.5" fill="#b8b8b8"/>
<rect x="577.2" y="98.3" width="1.5" height="1.5" fill="#b8b8b8"/>
<rect x="570.2" y="98.8" width="1.5" height="1.5" fill="#b8b8b8"/>
<rect x="577.5" y="103.6" width="1.5" height="1.5" fill="#b8b8b8"/>
<rect x="568.8" y="99.2" width="1.5" height="1.5" fill="#b8b8b8"/>
<rect x="579.6" y="116.1" width="1.5" height="1.5" fill="#b8b8b8"/>
<rect x="577.1" y="104.2" width="1.5" height="1.5" fill="#b8b8b8"/>
<rect x="575.4" y="104.5" width="1.5" height="1.5" fill="#b8b8b8"/>
<rect x="574.6" y="101.2" width="1.5" height="1.5" fill="#b8b8b8"/>
<rect x="569.6" y="103.8" width="1.5" height="1.5" fill="#b8b8b8"/>
<rect x="581.0" y="118.0" width="1.5" height="1.5" fill="#b8b8b8"/>
<rect x="569.3" y="103.4" width="1.5" height="1.5" fill="#b8b8b8"/>
<rect x="576.4" y="104.9" width="1.5" height="1.5" fill="#b8b8b8"/>
<rect x="574.4" y="96.2" width="1.5" height="1.5" fill="#b8b8b8"/>
<rect x="576.4" y="108.4" width="1.5" height="1.5" fill="#b8b8b8"/>
<rect x="574.3" y="102.3" width="1.5" height="1.5" fill="#b8b8b8"/>
<rect x="575.8" y="96.5" width="1.5" height="1.5" fill="#b8b8b8"/>
<rect x="574.7" y="99.4" width="1.5" height="1.5" fill="#b8b8b8"/>
<rect x="577.8" y="97.9" width="1.5" height="1.5" fill="#b8b8b8"/>
<rect x="577.2" y="104.8" width="1.5" height="1.5" fill="#b8b8b8"/>
<rect x="577.2" y="110.7" width="1.5" height="1.5" fill="#b8b8b8"/>
<rect x="578.2" y="113.9" width="1.5" height="1.5" fill="#b8b8b8"/>
<rect x="576.7" y="113.2" width="1.5" height="1.5" fill="#b8b8b8"/>
<rect x="577.0" y="106.6" width="1.5" height="1.5" fill="#b8b8b8"/>
<rect x="581.6" y="118.2" width="1.5" height="1.5" fill="#b8b8b8"/>
<rect x="578.0" y="113.4" width="1.5" height="1.5" fill="#b8b8b8"/>
<rect x="568.4" y="98.0" width="1.5" height="1.5" fill="#b8b8b8"/>
<rect x="579.9" y="116.5" width="1.5" height="1.5" fill="#b8b8b8"/>
<rect x="577.3" y="113.6" width="1.5" height="1.5" fill="#b8b8b8"/>
<rect x="573.6" y="100.8" width="1.5" height="1.5" fill="#b8b8b8"/>
<rect x="574.2" y="109.0" width="1.5" height="1.5" fill="#b8b8b8"/>
<rect x="578.2" y="114.9" width="1.5" height="1.5" fill="#b8b8b8"/>
<rect x="574.8" y="110.7" width="1.5" height="1.5" fill="#b8b8b8"/>
<rect x="577.3" y="112.6" width="1.5" height="1.5" fill="#b8b8b8"/>
<rect x="578.1" y="103.0" width="1.5" height="1.5" fill="#b8b8b8"/>
<rect x="575.4" y="100.6" width="1.5" height="1.5" fill="#b8b8b8"/>
<rect x="569.2" y="99.8" width="1.5" height="1.5" fill="#b8b8b8"/>
<rect x="576.3" y="110.1" width="1.5" height="1.5" fill="#b8b8b8"/>
<rect x="576.7" y="111.5" width="1.5" height="1.5" fill="#b8b8b8"/>
<rect x="579.0" y="108.7" width="1.5" height="1.5" fill="#b8b8b8"/>
<rect x="578.4" y="114.8" width="1.5" height="1.5" fill="#b8b8b8"/>
<rect x="576.4" y="109.0" width="1.5" height="1.5" fill="#b8b8b8"/>
<rect x="579.7" y="112.1" width="1.5" height="1.5" fill="#b8b8b8"/>
<rect x="579.6" y="113.6" width="1.5" height="1.5" fill="#b8b8b8"/>
<rect x="576.1" y="98.9" width="1.5" height="1.5" fill="#b8b8b8"/>
<rect x="579.7" y="113.5" width="1.5" height="1.5" fill="#b8b8b8"/>
<rect x="576.6" y="113.7" width="1.5" height="1.5" fill="#b8b8b8"/>
<rect x="577.3" y="108.8" width="1.5" height="1.5" fill="#b8b8b8"/>
<rect x="575.1" y="108.5" width="1.5" height="1.5" fill="#b8b8b8"/>
<rect x="578.6" y="114.2" width="1.5" height="1.5" fill="#b8b8b8"/>
<rect x="579.6" y="111.8" width="1.5" height="1.5" fill="#b8b8b8"/>
<rect x="576.4" y="101.0" width="1.5" height="1.5" fill="#b8b8b8"/>
<rect x="579.5" y="113.7" width="1.5" height="1.5" fill="#b8b8b8"/>
<rect x="579.3" y="110.3" width="1.5" height="1.5" fill="#b8b8b8"/>
<rect x="576.0" y="98.5" width="1.5" height="1.5" fill="#b8b8b8"/>
<rect x="577.2" y="112.4" width="1.5" height="1.5" fill="#b8b8b8"/>
<rect x="579.1" y="112.4" width="1.5" height="1.5" fill="#b8b8b8"/>
<rect x="577.0" y="109.3" width="1.5" height="1.5" fill="#b8b8b8"/>
<rect x="578.6" y="108.3" width="1.5" height="1.5" fill="#b8b8b8"/>
<rect x="580.9" y="116.5" width="1.5" height="1.5" fill="#b8b8b8"/>
<rect x="580.4" y="118.1" width="1.5" height="1.5" fill="#b8b8b8"/>
<rect x="573.6" y="97.0" width="1.5" height="1.5" fill="#b8b8b8"/>
<rect x="577.8" y="115.2" width="1.5" height="1.5" fill="#b8b8b8"/>
<rect x="577.7" y="107.9" width="1.5" height="1.5" fill="#b8b8b8"/>
<rect x="569.1" y="102.5" width="1.5" height="1.5" fill="#b8b8b8"/>
<rect x="573.5" y="102.6" width="1.5" height="1.5" fill="#b8b8b8"/>
<rect x="573.7" y="100.8" width="1.5" height="1.5" fill="#b8b8b8"/>
<rect x="581.4" y="117.6" width="1.5" height="1.5" fill="#b8b8b8"/>
<rect x="579.5" y="115.2" width="1.5" height="1.5" fill="#b8b8b8"/>
<rect x="579.7" y="116.4" width="1.5" height="1.5" fill="#b8b8b8"/>
<rect x="570.0" y="103.1" width="1.5" height="1.5" fill="#b8b8b8"/>
<rect x="578.9" y="108.7" width="1.5" height="1.5" fill="#b8b8b8"/>
<rect x="573.0" y="96.4" width="1.5" height="1.5" fill="#b8b8b8"/>
<rect x="577.6" y="107.9" width="1.5" height="1.5" fill="#b8b8b8"/>
<rect x="575.6" y="100.8" width="1.5" height="1.5" fill="#b8b8b8"/>
<rect x="571.8" y="105.0" width="1.5" height="1.5" fill="#b8b8b8"/>
<rect x="569.1" y="96.3" width="1.5" height="1.5" fill="#b8b8b8"/>
<rect x="580.6" y="115.5" width="1.5" height="1.5" fill="#b8b8b8"/>
<rect x="580.2" y="117.1" width="1.5" height="1.5" fill="#b8b8b8"/>
<rect x="580.8" y="116.7" width="1.5" height="1.5" fill="#b8b8b8"/>
<rect x="576.5" y="106.3" width="1.5" height="1.5" fill="#b8b8b8"/>
<rect x="581.3" y="118.4" width="1.5" height="1.5" fill="#b8b8b8"/>
<rect x="576.1" y="106.0" width="1.5" height="1.5" fill="#b8b8b8"/>
<rect x="578.1" y="104.1" width="1.5" height="1.5" fill="#b8b8b8"/>
<rect x="569.2" y="99.7" width="1.5" height="1.5" fill="#b8b8b8"/>
<rect x="570.3" y="104.3" width="1.5" height="1.5" fill="#b8b8b8"/>
<rect x="576.8" y="103.5" width="1.5" height="1.5" fill="#b8b8b8"/>
<rect x="586.2" y="81.0" width="1.5" height="1.5" fill="#4a7cc8"/>
<rect x="590.6" y="76.9" width="1.5" height="1.5" fill="#4a7cc8"/>
<rect x="590.9" y="92.2" width="1.5" height="1.5" fill="#4a7cc8"/>
<rect x="591.1" y="84.6" width="1.5" height="1.5" fill="#4a7cc8"/>
<rect x="588.7" y="93.9" width="1.5" height="1.5" fill="#4a7cc8"/>
<rect x="585.8" y="87.3" width="1.5" height="1.5" fill="#4a7cc8"/>
<rect x="587.7" y="87.6" width="1.5" height="1.5" fill="#4a7cc8"/>
<rect x="589.2" y="88.3" width="1.5" height="1.5" fill="#4a7cc8"/>
<rect x="585.8" y="74.3" width="1.5" height="1.5" fill="#4a7cc8"/>
<rect x="586.1" y="93.5" width="1.5" height="1.5" fill="#4a7cc8"/>
<rect x="586.9" y="79.9" width="1.5" height="1.5" fill="#4a7cc8"/>
<rect x="588.8" y="74.7" width="1.5" height="1.5" fill="#4a7cc8"/>
<rect x="586.7" y="94.9" width="1.5" height="1.5" fill="#4a7cc8"/>
<rect x="586.8" y="85.4" width="1.5" height="1.5" fill="#4a7cc8"/>
<rect x="587.2" y="82.4" width="1.5" height="1.5" fill="#4a7cc8"/>
<rect x="586.0" y="70.8" width="1.5" height="1.5" fill="#4a7cc8"/>
<rect x="589.7" y="72.0" width="1.5" height="1.5" fill="#4a7cc8"/>
<rect x="586.3" y="80.6" width="1.5" height="1.5" fill="#4a7cc8"/>
<rect x="592.9" y="92.8" width="1.5" height="1.5" fill="#4a7cc8"/>
<rect x="586.0" y="79.2" width="1.5" height="1.5" fill="#4a7cc8"/>
<rect x="585.9" y="71.5" width="1.5" height="1.5" fill="#4a7cc8"/>
<rect x="585.9" y="76.0" width="1.5" height="1.5" fill="#4a7cc8"/>
<rect x="586.4" y="72.9" width="1.5" height="1.5" fill="#4a7cc8"/>
<rect x="590.7" y="82.8" width="1.5" height="1.5" fill="#4a7cc8"/>
<rect x="587.5" y="88.2" width="1.5" height="1.5" fill="#4a7cc8"/>
<rect x="587.8" y="78.1" width="1.5" height="1.5" fill="#4a7cc8"/>
<rect x="586.8" y="77.0" width="1.5" height="1.5" fill="#4a7cc8"/>
<rect x="586.3" y="67.6" width="1.5" height="1.5" fill="#4a7cc8"/>
<rect x="586.1" y="94.7" width="1.5" height="1.5" fill="#4a7cc8"/>
<rect x="588.6" y="80.8" width="1.5" height="1.5" fill="#4a7cc8"/>
<rect x="586.5" y="91.5" width="1.5" height="1.5" fill="#4a7cc8"/>
<rect x="586.3" y="73.9" width="1.5" height="1.5" fill="#4a7cc8"/>
<rect x="587.3" y="77.7" width="1.5" height="1.5" fill="#4a7cc8"/>
<rect x="591.5" y="94.3" width="1.5" height="1.5" fill="#4a7cc8"/>
<rect x="585.8" y="91.8" width="1.5" height="1.5" fill="#4a7cc8"/>
<rect x="588.1" y="66.7" width="1.5" height="1.5" fill="#4a7cc8"/>
<rect x="588.1" y="92.5" width="1.5" height="1.5" fill="#4a7cc8"/>
<rect x="585.8" y="83.3" width="1.5" height="1.5" fill="#4a7cc8"/>
<rect x="590.4" y="77.5" width="1.5" height="1.5" fill="#4a7cc8"/>
<rect x="591.2" y="90.4" width="1.5" height="1.5" fill="#4a7cc8"/>
<rect x="586.7" y="94.8" width="1.5" height="1.5" fill="#4a7cc8"/>
<rect x="586.0" y="69.0" width="1.5" height="1.5" fill="#4a7cc8"/>
<rect x="589.0" y="81.4" width="1.5" height="1.5" fill="#4a7cc8"/>
<rect x="590.2" y="93.9" width="1.5" height="1.5" fill="#4a7cc8"/>
<rect x="589.9" y="85.1" width="1.5" height="1.5" fill="#4a7cc8"/>
<rect x="588.0" y="79.4" width="1.5" height="1.5" fill="#4a7cc8"/>
<rect x="588.4" y="66.9" width="1.5" height="1.5" fill="#4a7cc8"/>
<rect x="589.8" y="72.7" width="1.5" height="1.5" fill="#4a7cc8"/>
<rect x="586.8" y="85.1" width="1.5" height="1.5" fill="#4a7cc8"/>
<rect x="586.3" y="69.6" width="1.5" height="1.5" fill="#4a7cc8"/>
<rect x="589.3" y="84.8" width="1.5" height="1.5" fill="#4a7cc8"/>
<rect x="585.8" y="69.1" width="1.5" height="1.5" fill="#4a7cc8"/>
<rect x="588.3" y="81.4" width="1.5" height="1.5" fill="#4a7cc8"/>
<rect x="586.3" y="77.4" width="1.5" height="1.5" fill="#4a7cc8"/>
<rect x="585.8" y="83.7" width="1.5" height="1.5" fill="#4a7cc8"/>
<rect x="587.3" y="74.8" width="1.5" height="1.5" fill="#4a7cc8"/>
<rect x="589.6" y="94.4" width="1.5" height="1.5" fill="#4a7cc8"/>
<rect x="588.1" y="92.2" width="1.5" height="1.5" fill="#4a7cc8"/>
<rect x="586.3" y="72.8" width="1.5" height="1.5" fill="#4a7cc8"/>
<rect x="590.1" y="94.5" width="1.5" height="1.5" fill="#4a7cc8"/>
<rect x="585.8" y="74.9" width="1.5" height="1.5" fill="#4a7cc8"/>
<rect x="588.9" y="80.6" width="1.5" height="1.5" fill="#4a7cc8"/>
<rect x="586.4" y="78.3" width="1.5" height="1.5" fill="#4a7cc8"/>
<rect x="591.3" y="85.7" width="1.5" height="1.5" fill="#4a7cc8"/>
<rect x="585.8" y="72.5" width="1.5" height="1.5" fill="#4a7cc8"/>
<rect x="587.1" y="75.9" width="1.5" height="1.5" fill="#4a7cc8"/>
<rect x="586.3" y="86.2" width="1.5" height="1.5" fill="#4a7cc8"/>
<rect x="590.0" y="89.6" width="1.5" height="1.5" fill="#4a7cc8"/>
<rect x="586.3" y="80.8" width="1.5" height="1.5" fill="#4a7cc8"/>
<rect x="587.0" y="94.7" width="1.5" height="1.5" fill="#4a7cc8"/>
<rect x="586.5" y="90.3" width="1.5" height="1.5" fill="#4a7cc8"/>
<rect x="588.8" y="72.4" width="1.5" height="1.5" fill="#4a7cc8"/>
<rect x="590.3" y="74.6" width="1.5" height="1.5" fill="#4a7cc8"/>
<rect x="586.2" y="80.6" width="1.5" height="1.5" fill="#4a7cc8"/>
<rect x="587.0" y="72.4" width="1.5" height="1.5" fill="#4a7cc8"/>
<rect x="591.5" y="85.6" width="1.5" height="1.5" fill="#4a7cc8"/>
<rect x="586.8" y="70.1" width="1.5" height="1.5" fill="#4a7cc8"/>
<rect x="590.1" y="72.1" width="1.5" height="1.5" fill="#4a7cc8"/>
<rect x="585.8" y="70.0" width="1.5" height="1.5" fill="#4a7cc8"/>
<rect x="586.7" y="67.5" width="1.5" height="1.5" fill="#4a7cc8"/>
<rect x="591.7" y="92.6" width="1.5" height="1.5" fill="#4a7cc8"/>
<rect x="592.2" y="87.7" width="1.5" height="1.5" fill="#4a7cc8"/>
<rect x="587.1" y="93.6" width="1.5" height="1.5" fill="#4a7cc8"/>
<rect x="589.8" y="71.3" width="1.5" height="1.5" fill="#4a7cc8"/>
<rect x="585.8" y="88.1" width="1.5" height="1.5" fill="#4a7cc8"/>
<rect x="587.2" y="85.6" width="1.5" height="1.5" fill="#4a7cc8"/>
<rect x="586.7" y="76.9" width="1.5" height="1.5" fill="#4a7cc8"/>
<rect x="585.8" y="70.8" width="1.5" height="1.5" fill="#4a7cc8"/>
<rect x="586.8" y="74.1" width="1.5" height="1.5" fill="#4a7cc8"/>
<rect x="586.1" y="94.3" width="1.5" height="1.5" fill="#4a7cc8"/>
<rect x="586.4" y="94.6" width="1.5" height="1.5" fill="#4a7cc8"/>
<rect x="589.5" y="76.4" width="1.5" height="1.5" fill="#4a7cc8"/>
<rect x="587.7" y="90.3" width="1.5" height="1.5" fill="#4a7cc8"/>
<rect x="587.0" y="67.2" width="1.5" height="1.5" fill="#4a7cc8"/>
<rect x="590.3" y="76.9" width="1.5" height="1.5" fill="#4a7cc8"/>
<rect x="586.7" y="71.5" width="1.5" height="1.5" fill="#4a7cc8"/>
<rect x="585.8" y="92.6" width="1.5" height="1.5" fill="#4a7cc8"/>
<rect x="589.6" y="78.0" width="1.5" height="1.5" fill="#4a7cc8"/>
<rect x="585.8" y="88.7" width="1.5" height="1.5" fill="#4a7cc8"/>
<rect x="585.8" y="66.8" width="1.5" height="1.5" fill="#4a7cc8"/>
<rect x="586.7" y="93.3" width="1.5" height="1.5" fill="#4a7cc8"/>
<rect x="591.3" y="88.1" width="1.5" height="1.5" fill="#4a7cc8"/>
<rect x="586.5" y="75.9" width="1.5" height="1.5" fill="#4a7cc8"/>
<rect x="589.3" y="94.4" width="1.5" height="1.5" fill="#4a7cc8"/>
<rect x="588.6" y="73.6" width="1.5" height="1.5" fill="#4a7cc8"/>
<rect x="586.5" y="75.2" width="1.5" height="1.5" fill="#4a7cc8"/>
<rect x="588.2" y="65.9" width="1.5" height="1.5" fill="#4a7cc8"/>
<rect x="589.4" y="93.2" width="1.5" height="1.5" fill="#4a7cc8"/>
<rect x="585.8" y="94.0" width="1.5" height="1.5" fill="#4a7cc8"/>
<rect x="587.3" y="72.7" width="1.5" height="1.5" fill="#4a7cc8"/>
<rect x="592.6" y="94.4" width="1.5" height="1.5" fill="#4a7cc8"/>
<rect x="586.4" y="77.3" width="1.5" height="1.5" fill="#4a7cc8"/>
<rect x="587.6" y="78.6" width="1.5" height="1.5" fill="#4a7cc8"/>
<rect x="586.3" y="93.5" width="1.5" height="1.5" fill="#4a7cc8"/>
<rect x="590.0" y="89.7" width="1.5" height="1.5" fill="#4a7cc8"/>
<rect x="590.4" y="90.4" width="1.5" height="1.5" fill="#4a7cc8"/>
<rect x="586.9" y="83.9" width="1.5" height="1.5" fill="#4a7cc8"/>
<rect x="586.8" y="75.3" width="1.5" height="1.5" fill="#4a7cc8"/>
<rect x="585.9" y="89.1" width="1.5" height="1.5" fill="#4a7cc8"/>
<rect x="588.7" y="71.6" width="1.5" height="1.5" fill="#4a7cc8"/>
<rect x="585.8" y="73.1" width="1.5" height="1.5" fill="#4a7cc8"/>
<rect x="587.3" y="66.8" width="1.5" height="1.5" fill="#4a7cc8"/>
<rect x="590.6" y="75.5" width="1.5" height="1.5" fill="#4a7cc8"/>
<rect x="592.7" y="92.2" width="1.5" height="1.5" fill="#4a7cc8"/>
<rect x="585.9" y="73.7" width="1.5" height="1.5" fill="#4a7cc8"/>
<rect x="587.2" y="68.6" width="1.5" height="1.5" fill="#4a7cc8"/>
<rect x="587.7" y="87.0" width="1.5" height="1.5" fill="#4a7cc8"/>
<rect x="587.0" y="72.8" width="1.5" height="1.5" fill="#4a7cc8"/>
<rect x="589.1" y="84.3" width="1.5" height="1.5" fill="#4a7cc8"/>
<rect x="590.9" y="88.1" width="1.5" height="1.5" fill="#4a7cc8"/>
<rect x="586.0" y="85.6" width="1.5" height="1.5" fill="#4a7cc8"/>
<rect x="586.8" y="90.9" width="1.5" height="1.5" fill="#4a7cc8"/>
<rect x="587.1" y="82.7" width="1.5" height="1.5" fill="#4a7cc8"/>
<rect x="586.3" y="87.8" width="1.5" height="1.5" fill="#4a7cc8"/>
<rect x="586.3" y="73.1" width="1.5" height="1.5" fill="#4a7cc8"/>
<rect x="613.3" y="77.4" width="1.5" height="1.5" fill="#4a7cc8"/>
<rect x="595.7" y="87.9" width="1.5" height="1.5" fill="#4a7cc8"/>
<rect x="594.4" y="86.5" width="1.5" height="1.5" fill="#4a7cc8"/>
<rect x="602.3" y="92.2" width="1.5" height="1.5" fill="#4a7cc8"/>
<rect x="592.8" y="95.2" width="1.5" height="1.5" fill="#4a7cc8"/>
<rect x="608.8" y="85.8" width="1.5" height="1.5" fill="#4a7cc8"/>
<rect x="616.3" y="92.7" width="1.5" height="1.5" fill="#4a7cc8"/>
<rect x="595.2" y="72.6" width="1.5" height="1.5" fill="#4a7cc8"/>
<rect x="593.9" y="76.2" width="1.5" height="1.5" fill="#4a7cc8"/>
<rect x="600.5" y="94.9" width="1.5" height="1.5" fill="#4a7cc8"/>
<rect x="596.4" y="94.2" width="1.5" height="1.5" fill="#4a7cc8"/>
<rect x="597.7" y="93.2" width="1.5" height="1.5" fill="#4a7cc8"/>
<rect x="606.8" y="80.6" width="1.5" height="1.5" fill="#4a7cc8"/>
<rect x="592.9" y="94.5" width="1.5" height="1.5" fill="#4a7cc8"/>
<rect x="601.4" y="88.3" width="1.5" height="1.5" fill="#4a7cc8"/>
<rect x="596.3" y="79.4" width="1.5" height="1.5" fill="#4a7cc8"/>
<rect x="594.0" y="77.0" width="1.5" height="1.5" fill="#4a7cc8"/>
<rect x="600.9" y="80.5" width="1.5" height="1.5" fill="#4a7cc8"/>
<rect x="594.0" y="89.3" width="1.5" height="1.5" fill="#4a7cc8"/>
<rect x="595.7" y="70.6" width="1.5" height="1.5" fill="#4a7cc8"/>
<rect x="593.8" y="89.8" width="1.5" height="1.5" fill="#4a7cc8"/>
<rect x="594.0" y="82.0" width="1.5" height="1.5" fill="#4a7cc8"/>
<rect x="599.7" y="91.9" width="1.5" height="1.5" fill="#4a7cc8"/>
<rect x="592.8" y="73.8" width="1.5" height="1.5" fill="#4a7cc8"/>
<rect x="599.7" y="84.0" width="1.5" height="1.5" fill="#4a7cc8"/>
<rect x="592.7" y="89.1" width="1.5" height="1.5" fill="#4a7cc8"/>
<rect x="603.6" y="77.7" width="1.5" height="1.5" fill="#4a7cc8"/>
<rect x="595.1" y="84.3" width="1.5" height="1.5" fill="#4a7cc8"/>
<rect x="622.4" y="81.9" width="1.5" height="1.5" fill="#4a7cc8"/>
<rect x="600.1" y="82.0" width="1.5" height="1.5" fill="#4a7cc8"/>
<rect x="597.1" y="83.1" width="1.5" height="1.5" fill="#4a7cc8"/>
<rect x="593.9" y="83.3" width="1.5" height="1.5" fill="#4a7cc8"/>
<rect x="594.0" y="90.7" width="1.5" height="1.5" fill="#4a7cc8"/>
<rect x="614.9" y="70.0" width="1.5" height="1.5" fill="#4a7cc8"/>
<rect x="608.9" y="84.6" width="1.5" height="1.5" fill="#4a7cc8"/>
<rect x="613.2" y="84.2" width="1.5" height="1.5" fill="#4a7cc8"/>
<rect x="593.5" y="85.5" width="1.5" height="1.5" fill="#4a7cc8"/>
<rect x="599.8" y="70.9" width="1.5" height="1.5" fill="#4a7cc8"/>
<rect x="615.8" y="89.1" width="1.5" height="1.5" fill="#4a7cc8"/>
<rect x="601.5" y="75.0" width="1.5" height="1.5" fill="#4a7cc8"/>
<rect x="598.8" y="83.4" width="1.5" height="1.5" fill="#4a7cc8"/>
<rect x="595.1" y="77.1" width="1.5" height="1.5" fill="#4a7cc8"/>
<rect x="617.7" y="86.7" width="1.5" height="1.5" fill="#4a7cc8"/>
<rect x="598.5" y="75.8" width="1.5" height="1.5" fill="#4a7cc8"/>
<rect x="593.1" y="78.8" width="1.5" height="1.5" fill="#4a7cc8"/>
<rect x="592.3" y="85.9" width="1.5" height="1.5" fill="#4a7cc8"/>
<rect x="596.7" y="94.2" width="1.5" height="1.5" fill="#4a7cc8"/>
<rect x="601.4" y="93.8" width="1.5" height="1.5" fill="#4a7cc8"/>
<rect x="593.5" y="92.4" width="1.5" height="1.5" fill="#4a7cc8"/>
<rect x="594.3" y="91.8" width="1.5" height="1.5" fill="#4a7cc8"/>
<rect x="610.5" y="84.2" width="1.5" height="1.5" fill="#4a7cc8"/>
<rect x="583.2" y="115.3" width="1.5" height="1.5" fill="#b8b8b8"/>
<rect x="588.2" y="102.7" width="1.5" height="1.5" fill="#b8b8b8"/>
<rect x="586.1" y="109.3" width="1.5" height="1.5" fill="#b8b8b8"/>
<rect x="587.2" y="100.3" width="1.5" height="1.5" fill="#b8b8b8"/>
<rect x="586.9" y="113.4" width="1.5" height="1.5" fill="#b8b8b8"/>
<rect x="591.2" y="97.9" width="1.5" height="1.5" fill="#b8b8b8"/>
<rect x="583.4" y="114.0" width="1.5" height="1.5" fill="#b8b8b8"/>
<rect x="583.0" y="115.5" width="1.5" height="1.5" fill="#b8b8b8"/>
<rect x="586.4" y="111.0" width="1.5" height="1.5" fill="#b8b8b8"/>
<rect x="585.0" y="111.5" width="1.5" height="1.5" fill="#b8b8b8"/>
<rect x="588.3" y="107.3" width="1.5" height="1.5" fill="#b8b8b8"/>
<rect x="588.9" y="107.4" width="1.5" height="1.5" fill="#b8b8b8"/>
<rect x="587.0" y="107.9" width="1.5" height="1.5" fill="#b8b8b8"/>
<rect x="592.2" y="97.3" width="1.5" height="1.5" fill="#b8b8b8"/>
<rect x="585.5" y="108.7" width="1.5" height="1.5" fill="#b8b8b8"/>
<rect x="585.8" y="114.1" width="1.5" height="1.5" fill="#b8b8b8"/>
<rect x="585.4" y="108.1" width="1.5" height="1.5" fill="#b8b8b8"/>
<rect x="585.0" y="108.4" width="1.5" height="1.5" fill="#b8b8b8"/>
<rect x="589.0" y="100.5" width="1.5" height="1.5" fill="#b8b8b8"/>
<rect x="589.3" y="99.4" width="1.5" height="1.5" fill="#b8b8b8"/>
<rect x="584.6" y="109.2" width="1.5" height="1.5" fill="#b8b8b8"/>
<rect x="584.1" y="111.7" width="1.5" height="1.5" fill="#b8b8b8"/>
<rect x="586.2" y="113.6" width="1.5" height="1.5" fill="#b8b8b8"/>
<rect x="584.7" y="109.2" width="1.5" height="1.5" fill="#b8b8b8"/>
<rect x="586.2" y="109.0" width="1.5" height="1.5" fill="#b8b8b8"/>
<rect x="582.3" y="117.6" width="1.5" height="1.5" fill="#b8b8b8"/>
<rect x="585.4" y="115.9" width="1.5" height="1.5" fill="#b8b8b8"/>
<rect x="586.4" y="113.5" width="1.5" height="1.5" fill="#b8b8b8"/>
<rect x="595.3" y="102.1" width="1.5" height="1.5" fill="#b8b8b8"/>
<rect x="590.6" y="108.8" width="1.5" height="1.5" fill="#b8b8b8"/>
<rect x="582.6" y="116.9" width="1.5" height="1.5" fill="#b8b8b8"/>
<rect x="586.1" y="114.6" width="1.5" height="1.5" fill="#b8b8b8"/>
<rect x="588.5" y="98.7" width="1.5" height="1.5" fill="#b8b8b8"/>
<rect x="583.6" y="114.0" width="1.5" height="1.5" fill="#b8b8b8"/>
<rect x="582.9" y="116.6" width="1.5" height="1.5" fill="#b8b8b8"/>
<rect x="583.2" y="115.1" width="1.5" height="1.5" fill="#b8b8b8"/>
<rect x="590.2" y="109.0" width="1.5" height="1.5" fill="#b8b8b8"/>
<rect x="587.0" y="102.5" width="1.5" height="1.5" fill="#b8b8b8"/>
<rect x="585.8" y="109.1" width="1.5" height="1.5" fill="#b8b8b8"/>
<rect x="586.9" y="97.7" width="1.5" height="1.5" fill="#b8b8b8"/>
<rect x="595.1" y="101.3" width="1.5" height="1.5" fill="#b8b8b8"/>
<rect x="587.5" y="112.5" width="1.5" height="1.5" fill="#b8b8b8"/>
<rect x="592.9" y="101.5" width="1.5" height="1.5" fill="#b8b8b8"/>
<rect x="590.2" y="100.1" width="1.5" height="1.5" fill="#b8b8b8"/>
<rect x="585.1" y="111.7" width="1.5" height="1.5" fill="#b8b8b8"/>
<rect x="583.7" y="116.2" width="1.5" height="1.5" fill="#b8b8b8"/>
<rect x="588.8" y="110.6" width="1.5" height="1.5" fill="#b8b8b8"/>
<rect x="596.8" y="99.8" width="1.5" height="1.5" fill="#b8b8b8"/>
<rect x="585.4" y="111.6" width="1.5" height="1.5" fill="#b8b8b8"/>
<rect x="583.6" y="114.8" width="1.5" height="1.5" fill="#b8b8b8"/>
<rect x="582.5" y="118.3" width="1.5" height="1.5" fill="#b8b8b8"/>
<rect x="590.5" y="106.0" width="1.5" height="1.5" fill="#b8b8b8"/>
<rect x="585.4" y="107.8" width="1.5" height="1.5" fill="#b8b8b8"/>
<rect x="583.5" y="113.7" width="1.5" height="1.5" fill="#b8b8b8"/>
<rect x="583.4" y="115.2" width="1.5" height="1.5" fill="#b8b8b8"/>
<rect x="588.7" y="111.7" width="1.5" height="1.5" fill="#b8b8b8"/>
<rect x="587.3" y="110.7" width="1.5" height="1.5" fill="#b8b8b8"/>
<rect x="585.2" y="104.9" width="1.5" height="1.5" fill="#b8b8b8"/>
<rect x="586.6" y="97.6" width="1.5" height="1.5" fill="#b8b8b8"/>
<rect x="585.6" y="111.3" width="1.5" height="1.5" fill="#b8b8b8"/>
<rect x="589.8" y="109.2" width="1.5" height="1.5" fill="#b8b8b8"/>
<rect x="587.0" y="100.6" width="1.5" height="1.5" fill="#b8b8b8"/>
<rect x="583.9" y="112.0" width="1.5" height="1.5" fill="#b8b8b8"/>
<rect x="588.8" y="96.3" width="1.5" height="1.5" fill="#b8b8b8"/>
<rect x="588.3" y="99.9" width="1.5" height="1.5" fill="#b8b8b8"/>
<rect x="590.0" y="102.9" width="1.5" height="1.5" fill="#b8b8b8"/>
<rect x="584.8" y="110.8" width="1.5" height="1.5" fill="#b8b8b8"/>
<rect x="585.8" y="111.4" width="1.5" height="1.5" fill="#b8b8b8"/>
<rect x="595.5" y="100.6" width="1.5" height="1.5" fill="#b8b8b8"/>
<rect x="586.1" y="103.4" width="1.5" height="1.5" fill="#b8b8b8"/>
<rect x="591.7" y="99.6" width="1.5" height="1.5" fill="#b8b8b8"/>
<rect x="584.4" y="116.1" width="1.5" height="1.5" fill="#b8b8b8"/>
<rect x="586.1" y="106.9" width="1.5" height="1.5" fill="#b8b8b8"/>
<rect x="592.7" y="96.8" width="1.5" height="1.5" fill="#b8b8b8"/>
<rect x="585.6" y="110.2" width="1.5" height="1.5" fill="#b8b8b8"/>
<rect x="585.5" y="111.9" width="1.5" height="1.5" fill="#b8b8b8"/>
<rect x="583.4" y="117.3" width="1.5" height="1.5" fill="#b8b8b8"/>
<rect x="593.4" y="103.5" width="1.5" height="1.5" fill="#b8b8b8"/>
<rect x="590.8" y="98.0" width="1.5" height="1.5" fill="#b8b8b8"/>
<rect x="585.9" y="107.0" width="1.5" height="1.5" fill="#b8b8b8"/>
<rect x="594.2" y="98.4" width="1.5" height="1.5" fill="#b8b8b8"/>
<rect x="591.3" y="96.8" width="1.5" height="1.5" fill="#b8b8b8"/>
<rect x="582.4" y="117.4" width="1.5" height="1.5" fill="#b8b8b8"/>
<rect x="590.5" y="102.3" width="1.5" height="1.5" fill="#b8b8b8"/>
<rect x="587.9" y="109.1" width="1.5" height="1.5" fill="#b8b8b8"/>
<rect x="583.3" y="115.1" width="1.5" height="1.5" fill="#b8b8b8"/>
<rect x="586.8" y="104.9" width="1.5" height="1.5" fill="#b8b8b8"/>
<rect x="596.0" y="98.1" width="1.5" height="1.5" fill="#b8b8b8"/>
<rect x="585.3" y="114.5" width="1.5" height="1.5" fill="#b8b8b8"/>
<rect x="596.0" y="96.5" width="1.5" height="1.5" fill="#b8b8b8"/>
<rect x="584.7" y="113.8" width="1.5" height="1.5" fill="#b8b8b8"/>
<rect x="584.7" y="113.7" width="1.5" height="1.5" fill="#b8b8b8"/>
<rect x="585.9" y="102.9" width="1.5" height="1.5" fill="#b8b8b8"/>
<rect x="585.6" y="103.1" width="1.5" height="1.5" fill="#b8b8b8"/>
<rect x="590.7" y="105.5" width="1.5" height="1.5" fill="#b8b8b8"/>
<text x="0.90" y="181.00" font-size="18.5" fill="#231815" font-weight="bold" text-anchor="start" >B</text>
<path d="M129.3,349.6 L138.8,349.6 L139.6,377 L140.8,362 L141.8,352 L142.6,342 L146.3,342 L147,349.6 L150.5,351 L151,358 L151.5,366 L152.5,376 L153.5,383 L156.3,388 L156,397 L154.7,403.5 L153,405.6 L129.5,405.8 L129.2,392 L129.5,380 L128.8,365 Z" fill="#bebebe"/>
<circle cx="151.2" cy="380.7" r="2.05" fill="#bebebe"/>
<circle cx="165.1" cy="375.7" r="2.05" fill="#bebebe"/>
<circle cx="152.0" cy="382.1" r="2.05" fill="#bebebe"/>
<circle cx="148.4" cy="378.1" r="2.05" fill="#bebebe"/>
<circle cx="154.0" cy="393.0" r="2.05" fill="#bebebe"/>
<circle cx="147.7" cy="367.1" r="2.05" fill="#bebebe"/>
<circle cx="147.7" cy="393.9" r="2.05" fill="#bebebe"/>
<circle cx="155.3" cy="353.2" r="2.05" fill="#bebebe"/>
<circle cx="154.4" cy="383.6" r="2.05" fill="#bebebe"/>
<circle cx="148.2" cy="351.8" r="2.05" fill="#bebebe"/>
<circle cx="152.3" cy="354.2" r="2.05" fill="#bebebe"/>
<circle cx="148.5" cy="363.8" r="2.05" fill="#bebebe"/>
<circle cx="147.2" cy="375.6" r="2.05" fill="#bebebe"/>
<circle cx="151.1" cy="395.6" r="2.05" fill="#bebebe"/>
<circle cx="152.1" cy="384.9" r="2.05" fill="#bebebe"/>
<circle cx="151.8" cy="386.1" r="2.05" fill="#bebebe"/>
<circle cx="151.3" cy="365.7" r="2.05" fill="#bebebe"/>
<circle cx="159.8" cy="388.5" r="2.05" fill="#bebebe"/>
<circle cx="149.7" cy="363.2" r="2.05" fill="#bebebe"/>
<circle cx="149.4" cy="354.7" r="2.05" fill="#bebebe"/>
<circle cx="157.2" cy="372.2" r="2.05" fill="#bebebe"/>
<circle cx="160.1" cy="371.5" r="2.05" fill="#bebebe"/>
<circle cx="169.2" cy="395.9" r="2.05" fill="#bebebe"/>
<circle cx="147.0" cy="362.1" r="2.05" fill="#bebebe"/>
<circle cx="163.9" cy="375.9" r="2.05" fill="#bebebe"/>
<circle cx="147.5" cy="384.4" r="2.05" fill="#bebebe"/>
<circle cx="157.6" cy="365.3" r="2.05" fill="#bebebe"/>
<circle cx="147.6" cy="368.6" r="2.05" fill="#bebebe"/>
<circle cx="170.3" cy="391.2" r="2.05" fill="#bebebe"/>
<circle cx="147.9" cy="364.1" r="2.05" fill="#bebebe"/>
<circle cx="147.7" cy="354.2" r="2.05" fill="#bebebe"/>
<circle cx="158.2" cy="360.4" r="2.05" fill="#bebebe"/>
<circle cx="152.7" cy="374.7" r="2.05" fill="#bebebe"/>
<circle cx="148.5" cy="389.8" r="2.05" fill="#bebebe"/>
<circle cx="148.0" cy="385.1" r="2.05" fill="#bebebe"/>
<circle cx="147.9" cy="373.3" r="2.05" fill="#bebebe"/>
<circle cx="148.7" cy="365.3" r="2.05" fill="#bebebe"/>
<circle cx="171.8" cy="393.6" r="2.05" fill="#bebebe"/>
<circle cx="149.5" cy="397.9" r="2.05" fill="#bebebe"/>
<circle cx="148.7" cy="371.9" r="2.05" fill="#bebebe"/>
<circle cx="160.5" cy="385.0" r="2.05" fill="#bebebe"/>
<circle cx="147.7" cy="403.4" r="2.05" fill="#bebebe"/>
<circle cx="148.7" cy="364.7" r="2.05" fill="#bebebe"/>
<circle cx="157.4" cy="368.4" r="2.05" fill="#bebebe"/>
<circle cx="149.5" cy="354.9" r="2.05" fill="#bebebe"/>
<circle cx="147.7" cy="381.9" r="2.05" fill="#bebebe"/>
<circle cx="148.9" cy="382.9" r="2.05" fill="#bebebe"/>
<circle cx="150.3" cy="375.0" r="2.05" fill="#bebebe"/>
<circle cx="169.4" cy="376.6" r="2.05" fill="#bebebe"/>
<circle cx="153.0" cy="396.9" r="2.05" fill="#bebebe"/>
<circle cx="148.4" cy="359.2" r="2.05" fill="#bebebe"/>
<circle cx="163.7" cy="394.3" r="2.05" fill="#bebebe"/>
<circle cx="149.0" cy="361.1" r="2.05" fill="#bebebe"/>
<circle cx="156.4" cy="400.8" r="2.05" fill="#bebebe"/>
<circle cx="148.5" cy="401.4" r="2.05" fill="#bebebe"/>
<circle cx="162.0" cy="383.0" r="2.05" fill="#bebebe"/>
<circle cx="150.8" cy="356.5" r="2.05" fill="#bebebe"/>
<circle cx="147.3" cy="402.0" r="2.05" fill="#bebebe"/>
<circle cx="148.9" cy="388.3" r="2.05" fill="#bebebe"/>
<circle cx="149.1" cy="394.7" r="2.05" fill="#bebebe"/>
<circle cx="153.4" cy="366.6" r="2.05" fill="#bebebe"/>
<circle cx="148.4" cy="389.2" r="2.05" fill="#bebebe"/>
<circle cx="147.5" cy="363.1" r="2.05" fill="#bebebe"/>
<circle cx="152.7" cy="396.2" r="2.05" fill="#bebebe"/>
<circle cx="153.7" cy="365.9" r="2.05" fill="#bebebe"/>
<circle cx="164.5" cy="361.8" r="2.05" fill="#bebebe"/>
<circle cx="147.1" cy="365.3" r="2.05" fill="#bebebe"/>
<circle cx="151.1" cy="354.2" r="2.05" fill="#bebebe"/>
<circle cx="148.4" cy="370.5" r="2.05" fill="#bebebe"/>
<circle cx="152.9" cy="358.0" r="2.05" fill="#bebebe"/>
<circle cx="150.1" cy="398.2" r="2.05" fill="#bebebe"/>
<circle cx="155.2" cy="382.0" r="2.05" fill="#bebebe"/>
<circle cx="148.1" cy="352.9" r="2.05" fill="#bebebe"/>
<circle cx="147.1" cy="399.2" r="2.05" fill="#bebebe"/>
<circle cx="155.5" cy="402.0" r="2.05" fill="#bebebe"/>
<circle cx="147.2" cy="384.7" r="2.05" fill="#bebebe"/>
<circle cx="151.6" cy="389.7" r="2.05" fill="#bebebe"/>
<circle cx="149.7" cy="404.0" r="2.05" fill="#bebebe"/>
<circle cx="147.5" cy="379.9" r="2.05" fill="#bebebe"/>
<circle cx="156.3" cy="398.7" r="2.05" fill="#bebebe"/>
<circle cx="156.4" cy="388.3" r="2.05" fill="#bebebe"/>
<circle cx="158.0" cy="399.5" r="2.05" fill="#bebebe"/>
<circle cx="150.0" cy="387.3" r="2.05" fill="#bebebe"/>
<circle cx="163.2" cy="397.2" r="2.05" fill="#bebebe"/>
<circle cx="150.8" cy="392.9" r="2.05" fill="#bebebe"/>
<circle cx="160.9" cy="381.4" r="2.05" fill="#bebebe"/>
<circle cx="153.9" cy="371.3" r="2.05" fill="#bebebe"/>
<circle cx="153.1" cy="383.3" r="2.05" fill="#bebebe"/>
<circle cx="147.6" cy="384.9" r="2.05" fill="#bebebe"/>
<circle cx="156.1" cy="371.6" r="2.05" fill="#bebebe"/>
<circle cx="156.3" cy="381.8" r="2.05" fill="#bebebe"/>
<circle cx="151.1" cy="395.4" r="2.05" fill="#bebebe"/>
<circle cx="147.6" cy="390.8" r="2.05" fill="#bebebe"/>
<circle cx="147.2" cy="382.9" r="2.05" fill="#bebebe"/>
<circle cx="151.6" cy="363.2" r="2.05" fill="#bebebe"/>
<circle cx="155.4" cy="377.4" r="2.05" fill="#bebebe"/>
<circle cx="153.7" cy="399.8" r="2.05" fill="#bebebe"/>
<circle cx="149.1" cy="351.6" r="2.05" fill="#bebebe"/>
<circle cx="149.5" cy="386.9" r="2.05" fill="#bebebe"/>
<circle cx="148.6" cy="360.0" r="2.05" fill="#bebebe"/>
<circle cx="163.5" cy="386.0" r="2.05" fill="#bebebe"/>
<circle cx="151.1" cy="398.3" r="2.05" fill="#bebebe"/>
<circle cx="149.8" cy="386.3" r="2.05" fill="#bebebe"/>
<circle cx="148.5" cy="373.8" r="2.05" fill="#bebebe"/>
<circle cx="158.5" cy="399.5" r="2.05" fill="#bebebe"/>
<circle cx="161.9" cy="371.4" r="2.05" fill="#bebebe"/>
<circle cx="153.1" cy="367.8" r="2.05" fill="#bebebe"/>
<circle cx="148.0" cy="377.3" r="2.05" fill="#bebebe"/>
<circle cx="159.7" cy="396.0" r="2.05" fill="#bebebe"/>
<circle cx="155.7" cy="401.4" r="2.05" fill="#bebebe"/>
<circle cx="149.3" cy="360.0" r="2.05" fill="#bebebe"/>
<circle cx="151.2" cy="365.6" r="2.05" fill="#bebebe"/>
<circle cx="148.7" cy="372.9" r="2.05" fill="#bebebe"/>
<circle cx="153.9" cy="377.2" r="2.05" fill="#bebebe"/>
<circle cx="149.7" cy="395.5" r="2.05" fill="#bebebe"/>
<circle cx="147.5" cy="352.7" r="2.05" fill="#bebebe"/>
<circle cx="161.4" cy="353.2" r="2.05" fill="#bebebe"/>
<circle cx="155.6" cy="381.2" r="2.05" fill="#bebebe"/>
<circle cx="149.6" cy="393.0" r="2.05" fill="#bebebe"/>
<circle cx="147.1" cy="358.2" r="2.05" fill="#bebebe"/>
<circle cx="151.2" cy="352.3" r="2.05" fill="#bebebe"/>
<circle cx="159.4" cy="363.6" r="2.05" fill="#bebebe"/>
<circle cx="148.1" cy="353.5" r="2.05" fill="#bebebe"/>
<circle cx="153.9" cy="374.7" r="2.05" fill="#bebebe"/>
<circle cx="154.0" cy="385.7" r="2.05" fill="#bebebe"/>
<circle cx="158.5" cy="401.8" r="2.05" fill="#bebebe"/>
<circle cx="155.1" cy="361.6" r="2.05" fill="#bebebe"/>
<circle cx="151.5" cy="360.5" r="2.05" fill="#bebebe"/>
<circle cx="147.1" cy="376.0" r="2.05" fill="#bebebe"/>
<circle cx="155.8" cy="360.5" r="2.05" fill="#bebebe"/>
<circle cx="149.2" cy="369.3" r="2.05" fill="#bebebe"/>
<circle cx="155.4" cy="378.6" r="2.05" fill="#bebebe"/>
<circle cx="153.7" cy="391.1" r="2.05" fill="#bebebe"/>
<circle cx="150.5" cy="393.0" r="2.05" fill="#bebebe"/>
<circle cx="127.5" cy="352" r="2.05" fill="#bebebe"/>
<circle cx="126.8" cy="356" r="2.05" fill="#bebebe"/>
<circle cx="127.2" cy="363" r="2.05" fill="#bebebe"/>
<circle cx="126.5" cy="372" r="2.05" fill="#bebebe"/>
<circle cx="127" cy="376" r="2.05" fill="#bebebe"/>
<circle cx="126.2" cy="385" r="2.05" fill="#bebebe"/>
<circle cx="127.3" cy="390" r="2.05" fill="#bebebe"/>
<circle cx="126.6" cy="394" r="2.05" fill="#bebebe"/>
<circle cx="127.5" cy="399" r="2.05" fill="#bebebe"/>
<circle cx="127.8" cy="404" r="2.05" fill="#bebebe"/>
<circle cx="128" cy="359" r="2.05" fill="#bebebe"/>
<circle cx="128.2" cy="368" r="2.05" fill="#bebebe"/>
<circle cx="128" cy="381" r="2.05" fill="#bebebe"/>
<circle cx="94.7" cy="353" r="2.05" fill="#bebebe"/>
<circle cx="110.8" cy="370.9" r="2.05" fill="#bebebe"/>
<circle cx="111.9" cy="380.3" r="2.05" fill="#bebebe"/>
<circle cx="112.6" cy="382.8" r="2.05" fill="#bebebe"/>
<circle cx="107.8" cy="383.6" r="2.05" fill="#bebebe"/>
<circle cx="120.8" cy="380" r="2.05" fill="#bebebe"/>
<circle cx="112.9" cy="389.7" r="2.05" fill="#bebebe"/>
<circle cx="94.4" cy="392.6" r="2.05" fill="#bebebe"/>
<circle cx="103.9" cy="395.4" r="2.05" fill="#bebebe"/>
<circle cx="106.5" cy="397.6" r="2.05" fill="#bebebe"/>
<circle cx="115.2" cy="401.9" r="2.05" fill="#bebebe"/>
<circle cx="122.8" cy="357.3" r="2.05" fill="#bebebe"/>
<circle cx="125.4" cy="358.8" r="2.05" fill="#bebebe"/>
<circle cx="126.4" cy="360.8" r="2.05" fill="#bebebe"/>
<circle cx="124.4" cy="360.3" r="2.05" fill="#bebebe"/>
<circle cx="123.4" cy="367.5" r="2.05" fill="#bebebe"/>
<circle cx="122.8" cy="369.5" r="2.05" fill="#bebebe"/>
<circle cx="126.4" cy="377.7" r="2.05" fill="#bebebe"/>
<circle cx="125.9" cy="383.3" r="2.05" fill="#bebebe"/>
<circle cx="125.4" cy="387.4" r="2.05" fill="#bebebe"/>
<circle cx="121.8" cy="395.6" r="2.05" fill="#bebebe"/>
<circle cx="123.9" cy="398.6" r="2.05" fill="#bebebe"/>
<circle cx="127.4" cy="403.2" r="2.05" fill="#bebebe"/>
<circle cx="128" cy="351.1" r="2.05" fill="#bebebe"/>
<circle cx="128.5" cy="369.5" r="2.05" fill="#bebebe"/>
<circle cx="174.5" cy="353.8" r="2.05" fill="#bebebe"/>
<circle cx="182.7" cy="355.7" r="2.05" fill="#bebebe"/>
<circle cx="180.4" cy="357.8" r="2.05" fill="#bebebe"/>
<circle cx="178" cy="360.2" r="2.05" fill="#bebebe"/>
<circle cx="175.7" cy="362.5" r="2.05" fill="#bebebe"/>
<circle cx="194.7" cy="360" r="2.05" fill="#bebebe"/>
<circle cx="191.5" cy="366.6" r="2.05" fill="#bebebe"/>
<circle cx="202.9" cy="369.8" r="2.05" fill="#bebebe"/>
<circle cx="206" cy="372.8" r="2.05" fill="#bebebe"/>
<circle cx="218.9" cy="372.1" r="2.05" fill="#bebebe"/>
<circle cx="171.3" cy="364.6" r="2.05" fill="#bebebe"/>
<circle cx="178.6" cy="369.5" r="2.05" fill="#bebebe"/>
<circle cx="175.1" cy="370.7" r="2.05" fill="#bebebe"/>
<circle cx="178" cy="371.9" r="2.05" fill="#bebebe"/>
<circle cx="174.5" cy="371.6" r="2.05" fill="#bebebe"/>
<circle cx="170.4" cy="376.5" r="2.05" fill="#bebebe"/>
<circle cx="171.6" cy="378.9" r="2.05" fill="#bebebe"/>
<circle cx="179.8" cy="379.5" r="2.05" fill="#bebebe"/>
<circle cx="187" cy="379.5" r="2.05" fill="#bebebe"/>
<circle cx="178" cy="383.5" r="2.05" fill="#bebebe"/>
<circle cx="175.1" cy="384.1" r="2.05" fill="#bebebe"/>
<circle cx="201.4" cy="386.5" r="2.05" fill="#bebebe"/>
<circle cx="179.8" cy="390" r="2.05" fill="#bebebe"/>
<circle cx="186.6" cy="391.5" r="2.05" fill="#bebebe"/>
<circle cx="205.5" cy="391.7" r="2.05" fill="#bebebe"/>
<circle cx="172.2" cy="391.7" r="2.05" fill="#bebebe"/>
<circle cx="173.9" cy="394" r="2.05" fill="#bebebe"/>
<circle cx="164" cy="392.3" r="2.05" fill="#bebebe"/>
<circle cx="165.8" cy="391.5" r="2.05" fill="#bebebe"/>
<circle cx="169.9" cy="399" r="2.05" fill="#bebebe"/>
<circle cx="175.1" cy="401.1" r="2.05" fill="#bebebe"/>
<circle cx="159.9" cy="399.3" r="2.05" fill="#bebebe"/>
<circle cx="159.3" cy="395.8" r="2.05" fill="#bebebe"/>
<circle cx="169.3" cy="389.4" r="2.05" fill="#bebebe"/>
<circle cx="169.9" cy="385.3" r="2.05" fill="#bebebe"/>
<circle cx="167.5" cy="385.3" r="2.05" fill="#bebebe"/>
<circle cx="165.2" cy="359.6" r="2.05" fill="#bebebe"/>
<circle cx="164" cy="362.5" r="2.05" fill="#bebebe"/>
<circle cx="164.6" cy="365.4" r="2.05" fill="#bebebe"/>
<circle cx="166.4" cy="369.5" r="2.05" fill="#bebebe"/>
<circle cx="167.5" cy="370.7" r="2.05" fill="#bebebe"/>
<circle cx="164" cy="353.8" r="2.05" fill="#bebebe"/>
<circle cx="161.7" cy="353.8" r="2.05" fill="#bebebe"/>
<circle cx="159.3" cy="362.5" r="2.05" fill="#bebebe"/>
<circle cx="158.2" cy="364.9" r="2.05" fill="#bebebe"/>
<circle cx="164.6" cy="376.5" r="2.05" fill="#bebebe"/>
<circle cx="164" cy="380" r="2.05" fill="#bebebe"/>
<circle cx="162.3" cy="378.3" r="2.05" fill="#bebebe"/>
<circle cx="161" cy="385" r="2.05" fill="#bebebe"/>
<circle cx="162" cy="372" r="2.05" fill="#bebebe"/>
<circle cx="160.5" cy="375" r="2.05" fill="#bebebe"/>
<circle cx="158" cy="390" r="2.05" fill="#bebebe"/>
<circle cx="161" cy="403" r="2.05" fill="#bebebe"/>
<circle cx="163" cy="398" r="2.05" fill="#bebebe"/>
<circle cx="166.5" cy="395" r="2.05" fill="#bebebe"/>
<circle cx="160" cy="350.5" r="2.05" fill="#bebebe"/>
<circle cx="156" cy="350" r="2.05" fill="#bebebe"/>
<circle cx="145.2" cy="290.6" r="2.05" fill="#bebebe"/>
<circle cx="144.9" cy="301.9" r="2.05" fill="#bebebe"/>
<circle cx="133.2" cy="303.1" r="2.05" fill="#bebebe"/>
<circle cx="144.5" cy="311.9" r="2.05" fill="#bebebe"/>
<circle cx="144.5" cy="316.4" r="2.05" fill="#bebebe"/>
<circle cx="135.7" cy="316.7" r="2.05" fill="#bebebe"/>
<circle cx="134.9" cy="324.4" r="2.05" fill="#bebebe"/>
<circle cx="144.9" cy="329.7" r="2.05" fill="#bebebe"/>
<circle cx="144.9" cy="335.5" r="2.05" fill="#bebebe"/>
<circle cx="135.2" cy="336.3" r="2.05" fill="#bebebe"/>
<circle cx="135.2" cy="339.6" r="2.05" fill="#bebebe"/>
<circle cx="135.5" cy="343" r="2.05" fill="#bebebe"/>
<circle cx="136.2" cy="346.3" r="2.05" fill="#bebebe"/>
<circle cx="144" cy="340.5" r="2.05" fill="#bebebe"/>
<circle cx="144.5" cy="344.6" r="2.05" fill="#bebebe"/>
<circle cx="144.5" cy="348" r="2.05" fill="#bebebe"/>
<circle cx="139" cy="347" r="2.05" fill="#bebebe"/>
<circle cx="141" cy="345" r="2.05" fill="#bebebe"/>
<circle cx="133" cy="347" r="2.05" fill="#bebebe"/>
<circle cx="129.9" cy="284.8" r="2.05" fill="#00008b"/>
<circle cx="112" cy="292.8" r="2.05" fill="#00008b"/>
<circle cx="127.9" cy="305.6" r="2.05" fill="#00008b"/>
<circle cx="128.6" cy="309.4" r="2.05" fill="#00008b"/>
<circle cx="131.9" cy="309.4" r="2.05" fill="#00008b"/>
<circle cx="126.6" cy="315.5" r="2.05" fill="#00008b"/>
<circle cx="131.9" cy="315.9" r="2.05" fill="#00008b"/>
<circle cx="123.3" cy="321" r="2.05" fill="#00008b"/>
<circle cx="127.4" cy="324.7" r="2.05" fill="#00008b"/>
<circle cx="129.1" cy="325" r="2.05" fill="#00008b"/>
<circle cx="126.2" cy="330.5" r="2.05" fill="#00008b"/>
<circle cx="130.7" cy="329.7" r="2.05" fill="#00008b"/>
<circle cx="131.6" cy="332.2" r="2.05" fill="#00008b"/>
<circle cx="128.2" cy="333.8" r="2.05" fill="#00008b"/>
<circle cx="129.9" cy="335.5" r="2.05" fill="#00008b"/>
<circle cx="126.6" cy="338" r="2.05" fill="#00008b"/>
<circle cx="129.1" cy="339.6" r="2.05" fill="#00008b"/>
<circle cx="130.7" cy="337.1" r="2.05" fill="#00008b"/>
<circle cx="111.3" cy="341.8" r="2.05" fill="#00008b"/>
<circle cx="129.1" cy="343.8" r="2.05" fill="#00008b"/>
<circle cx="129.9" cy="346.3" r="2.05" fill="#00008b"/>
<circle cx="131.6" cy="348.3" r="2.05" fill="#00008b"/>
<circle cx="127.5" cy="327.5" r="2.05" fill="#00008b"/>
<circle cx="130.5" cy="320" r="2.05" fill="#00008b"/>
<circle cx="167.8" cy="247.9" r="2.05" fill="#b22222"/>
<circle cx="164.1" cy="264.1" r="2.05" fill="#b22222"/>
<circle cx="148.2" cy="298.4" r="2.05" fill="#b22222"/>
<circle cx="154.3" cy="306.1" r="2.05" fill="#b22222"/>
<circle cx="157" cy="305.6" r="2.05" fill="#b22222"/>
<circle cx="170.6" cy="314.4" r="2.05" fill="#b22222"/>
<circle cx="197.3" cy="315.2" r="2.05" fill="#b22222"/>
<circle cx="151.8" cy="317.2" r="2.05" fill="#b22222"/>
<circle cx="152.8" cy="319.7" r="2.05" fill="#b22222"/>
<circle cx="151.5" cy="322.2" r="2.05" fill="#b22222"/>
<circle cx="161.5" cy="320.5" r="2.05" fill="#b22222"/>
<circle cx="175.7" cy="319.9" r="2.05" fill="#b22222"/>
<circle cx="183.9" cy="323.2" r="2.05" fill="#b22222"/>
<circle cx="150.7" cy="324.7" r="2.05" fill="#b22222"/>
<circle cx="162.3" cy="329.3" r="2.05" fill="#b22222"/>
<circle cx="168.1" cy="333.8" r="2.05" fill="#b22222"/>
<circle cx="169.8" cy="335.5" r="2.05" fill="#b22222"/>
<circle cx="149.8" cy="333" r="2.05" fill="#b22222"/>
<circle cx="156.5" cy="339.6" r="2.05" fill="#b22222"/>
<circle cx="154.2" cy="339.6" r="2.05" fill="#b22222"/>
<circle cx="164.3" cy="339.1" r="2.05" fill="#b22222"/>
<circle cx="149.2" cy="338.8" r="2.05" fill="#b22222"/>
<circle cx="149.2" cy="343" r="2.05" fill="#b22222"/>
<circle cx="149.8" cy="345.5" r="2.05" fill="#b22222"/>
<circle cx="154.8" cy="345.5" r="2.05" fill="#b22222"/>
<circle cx="158.1" cy="345.5" r="2.05" fill="#b22222"/>
<circle cx="165.6" cy="346.3" r="2.05" fill="#b22222"/>
<circle cx="186.4" cy="344.6" r="2.05" fill="#b22222"/>
<circle cx="175.6" cy="325.5" r="2.05" fill="#b22222"/>
<circle cx="222.3" cy="300.5" r="2.05" fill="#b22222"/>
<circle cx="152" cy="328" r="2.05" fill="#b22222"/>
<circle cx="160" cy="343" r="2.05" fill="#b22222"/>
<line x1="132.33" y1="414.1" x2="132.33" y2="200.9" stroke="#000" stroke-width="1.15" stroke-dasharray="5.7,5.75"/>
<line x1="146.67" y1="414.1" x2="146.67" y2="200.9" stroke="#000" stroke-width="1.15" stroke-dasharray="5.7,5.75"/>
<line x1="31.4" y1="348.39" x2="248.2" y2="348.39" stroke="#000" stroke-width="1.15" stroke-dasharray="5.9,5.6"/>
<text x="212.40" y="297.60" font-size="8.1" fill="#0a0a0a" font-weight="normal" text-anchor="start" stroke="#0a0a0a" stroke-width="0.22" >SLC25A3</text>
<text x="151.30" y="328.40" font-size="8.0" fill="#0a0a0a" font-weight="normal" text-anchor="start" stroke="#0a0a0a" stroke-width="0.22" >PARK7</text>
<text x="182.00" y="334.80" font-size="8.0" fill="#0a0a0a" font-weight="normal" text-anchor="start" stroke="#0a0a0a" stroke-width="0.22" >PC</text>
<line x1="159.4" y1="330.3" x2="155.3" y2="340.4" stroke="#000" stroke-width="0.8"/>
<line x1="180.7" y1="332.3" x2="168.5" y2="334.4" stroke="#000" stroke-width="0.8"/>
<rect x="31.4" y="200.9" width="216.79999999999998" height="213.20000000000002" fill="none" stroke="#000" stroke-width="1.3"/>
<text x="35.5" y="210.9" font-size="9.4" fill="#c0282c" stroke="#c0282c" stroke-width="0.2" xml:space="preserve">up−regulated:  44</text>
<text x="35.5" y="223.9" font-size="9.4" fill="#22229a" stroke="#22229a" stroke-width="0.2" xml:space="preserve">down−regulated:  28</text>
<line x1="29.9" y1="404.40" x2="31.4" y2="404.40" stroke="#333" stroke-width="1"/>
<text x="29.30" y="407.70" font-size="10.0" fill="#0a0a0a" font-weight="normal" text-anchor="end" stroke="#0a0a0a" stroke-width="0.22" >0</text>
<line x1="29.9" y1="361.35" x2="31.4" y2="361.35" stroke="#333" stroke-width="1"/>
<text x="29.30" y="364.65" font-size="10.0" fill="#0a0a0a" font-weight="normal" text-anchor="end" stroke="#0a0a0a" stroke-width="0.22" >1</text>
<line x1="29.9" y1="318.30" x2="31.4" y2="318.30" stroke="#333" stroke-width="1"/>
<text x="29.30" y="321.60" font-size="10.0" fill="#0a0a0a" font-weight="normal" text-anchor="end" stroke="#0a0a0a" stroke-width="0.22" >2</text>
<line x1="29.9" y1="275.25" x2="31.4" y2="275.25" stroke="#333" stroke-width="1"/>
<text x="29.30" y="278.55" font-size="10.0" fill="#0a0a0a" font-weight="normal" text-anchor="end" stroke="#0a0a0a" stroke-width="0.22" >3</text>
<line x1="29.9" y1="232.20" x2="31.4" y2="232.20" stroke="#333" stroke-width="1"/>
<text x="29.30" y="235.50" font-size="10.0" fill="#0a0a0a" font-weight="normal" text-anchor="end" stroke="#0a0a0a" stroke-width="0.22" >4</text>
<line x1="78.20" y1="414.1" x2="78.20" y2="415.6" stroke="#333" stroke-width="1"/>
<text x="77.60" y="424.00" font-size="9.2" fill="#0a0a0a" font-weight="normal" text-anchor="middle" stroke="#0a0a0a" stroke-width="0.22" >−5</text>
<line x1="139.50" y1="414.1" x2="139.50" y2="415.6" stroke="#333" stroke-width="1"/>
<text x="139.50" y="424.00" font-size="9.2" fill="#0a0a0a" font-weight="normal" text-anchor="middle" stroke="#0a0a0a" stroke-width="0.22" >0</text>
<line x1="200.80" y1="414.1" x2="200.80" y2="415.6" stroke="#333" stroke-width="1"/>
<text x="200.80" y="424.00" font-size="9.2" fill="#0a0a0a" font-weight="normal" text-anchor="middle" stroke="#0a0a0a" stroke-width="0.22" >5</text>
<text x="143.80" y="436.60" font-size="10.6" fill="#0a0a0a" font-weight="normal" text-anchor="middle" stroke="#0a0a0a" stroke-width="0.22" >Log2 FECD/Control Ratio</text>
<text transform="translate(18.9,305.3) rotate(-90)" font-size="10.6" fill="#0a0a0a" stroke="#0a0a0a" stroke-width="0.22" text-anchor="middle">−Log10 P value</text>
<text x="267.70" y="180.70" font-size="18.5" fill="#231815" font-weight="bold" text-anchor="start" >C</text>
<text x="373.9" y="185.3" font-size="13.5" font-weight="bold" fill="#111">KEGG enrichment of <tspan fill="#e8261e">up-regulated</tspan> proteins</text>
<path d="M427.7,198.5 L427.7,287.6 L649.0,287.6" fill="none" stroke="#222" stroke-width="1.1"/>
<rect x="439.3" y="209.8" width="196.3" height="8.0" fill="#e8261e"/>
<line x1="425.09999999999997" y1="213.85" x2="427.7" y2="213.85" stroke="#222" stroke-width="1"/>
<text x="422.60" y="217.85" font-size="10.75" fill="#0a0a0a" font-weight="normal" text-anchor="end" stroke="#0a0a0a" stroke-width="0.22" >Hippo signaling pathway</text>
<rect x="439.3" y="230.2" width="186.6" height="8.0" fill="#e8261e"/>
<line x1="425.09999999999997" y1="234.25" x2="427.7" y2="234.25" stroke="#222" stroke-width="1"/>
<text x="422.60" y="238.25" font-size="10.75" fill="#0a0a0a" font-weight="normal" text-anchor="end" stroke="#0a0a0a" stroke-width="0.22" >Citrate cycle (TCA cycle)</text>
<rect x="439.3" y="250.9" width="151.6" height="8.0" fill="#e8261e"/>
<line x1="425.09999999999997" y1="254.95" x2="427.7" y2="254.95" stroke="#222" stroke-width="1"/>
<text x="422.60" y="258.95" font-size="10.75" fill="#0a0a0a" font-weight="normal" text-anchor="end" stroke="#0a0a0a" stroke-width="0.22" >Necroptosis</text>
<rect x="439.3" y="271.1" width="138.5" height="8.0" fill="#e8261e"/>
<line x1="425.09999999999997" y1="275.1" x2="427.7" y2="275.1" stroke="#222" stroke-width="1"/>
<text x="422.60" y="279.10" font-size="10.75" fill="#0a0a0a" font-weight="normal" text-anchor="end" stroke="#0a0a0a" stroke-width="0.22" >Cell cycle</text>
<line x1="439.3" y1="287.6" x2="439.3" y2="289.4" stroke="#222" stroke-width="1"/>
<text x="439.30" y="301.20" font-size="10.2" fill="#0a0a0a" font-weight="normal" text-anchor="middle" stroke="#0a0a0a" stroke-width="0.22" >0</text>
<line x1="515.2" y1="287.6" x2="515.2" y2="289.4" stroke="#222" stroke-width="1"/>
<text x="515.20" y="301.20" font-size="10.2" fill="#0a0a0a" font-weight="normal" text-anchor="middle" stroke="#0a0a0a" stroke-width="0.22" >1</text>
<line x1="591.1" y1="287.6" x2="591.1" y2="289.4" stroke="#222" stroke-width="1"/>
<text x="591.10" y="301.20" font-size="10.2" fill="#0a0a0a" font-weight="normal" text-anchor="middle" stroke="#0a0a0a" stroke-width="0.22" >2</text>
<text x="530.20" y="313.30" font-size="10.6" fill="#0a0a0a" font-weight="normal" text-anchor="middle" stroke="#0a0a0a" stroke-width="0.22" >−Log10 Fisher’s exact test p value</text>
<text x="364.8" y="336.4" font-size="13.45" font-weight="bold" fill="#111">KEGG enrichment of <tspan fill="#1f1a99">down-regulated</tspan> proteins</text>
<path d="M427.7,350.8 L427.7,439.5 L648.8,439.5" fill="none" stroke="#222" stroke-width="1.1"/>
<rect x="439.3" y="358.2" width="174.7" height="8.2" fill="#160e8c"/>
<line x1="425.09999999999997" y1="362.3" x2="427.7" y2="362.3" stroke="#222" stroke-width="1"/>
<text x="422.60" y="366.30" font-size="10.75" fill="#0a0a0a" font-weight="normal" text-anchor="end" stroke="#0a0a0a" stroke-width="0.22" >Glycosaminoglycan degradation</text>
<rect x="439.3" y="379.6" width="121.9" height="8.2" fill="#160e8c"/>
<line x1="425.09999999999997" y1="383.75" x2="427.7" y2="383.75" stroke="#222" stroke-width="1"/>
<text x="422.60" y="387.75" font-size="10.75" fill="#0a0a0a" font-weight="normal" text-anchor="end" stroke="#0a0a0a" stroke-width="0.22" >Lysosome</text>
<rect x="439.3" y="400.9" width="117.2" height="8.2" fill="#160e8c"/>
<line x1="425.09999999999997" y1="405.0" x2="427.7" y2="405.0" stroke="#222" stroke-width="1"/>
<text x="422.60" y="409.00" font-size="10.75" fill="#0a0a0a" font-weight="normal" text-anchor="end" stroke="#0a0a0a" stroke-width="0.22" >Renin−angiotensin system</text>
<rect x="439.3" y="422.4" width="75.4" height="8.2" fill="#160e8c"/>
<line x1="425.09999999999997" y1="426.5" x2="427.7" y2="426.5" stroke="#222" stroke-width="1"/>
<text x="422.60" y="430.50" font-size="10.75" fill="#0a0a0a" font-weight="normal" text-anchor="end" stroke="#0a0a0a" stroke-width="0.22" >Protein digestion and absorption</text>
<line x1="439.30" y1="439.5" x2="439.30" y2="441.3" stroke="#222" stroke-width="1"/>
<text x="439.30" y="453.20" font-size="10.2" fill="#0a0a0a" font-weight="normal" text-anchor="middle" stroke="#0a0a0a" stroke-width="0.22" >0</text>
<line x1="486.95" y1="439.5" x2="486.95" y2="441.3" stroke="#222" stroke-width="1"/>
<text x="486.95" y="453.20" font-size="10.2" fill="#0a0a0a" font-weight="normal" text-anchor="middle" stroke="#0a0a0a" stroke-width="0.22" >1</text>
<line x1="534.60" y1="439.5" x2="534.60" y2="441.3" stroke="#222" stroke-width="1"/>
<text x="534.60" y="453.20" font-size="10.2" fill="#0a0a0a" font-weight="normal" text-anchor="middle" stroke="#0a0a0a" stroke-width="0.22" >2</text>
<line x1="582.25" y1="439.5" x2="582.25" y2="441.3" stroke="#222" stroke-width="1"/>
<text x="582.25" y="453.20" font-size="10.2" fill="#0a0a0a" font-weight="normal" text-anchor="middle" stroke="#0a0a0a" stroke-width="0.22" >3</text>
<line x1="629.90" y1="439.5" x2="629.90" y2="441.3" stroke="#222" stroke-width="1"/>
<text x="629.90" y="453.20" font-size="10.2" fill="#0a0a0a" font-weight="normal" text-anchor="middle" stroke="#0a0a0a" stroke-width="0.22" >4</text>
<text x="535.70" y="463.50" font-size="10.6" fill="#0a0a0a" font-weight="normal" text-anchor="middle" stroke="#0a0a0a" stroke-width="0.22" >−Log10 Fisher’s exact test p value</text>
<text x="0.90" y="496.80" font-size="18.5" fill="#231815" font-weight="bold" text-anchor="start" >D</text>
<path d="M31.50,623.20 L36.86,520.94 A102.40,102.40 0 0 1 117.38,567.43 Z" fill="#ec6f6f"/>
<path d="M31.50,623.20 L96.99,589.83 A73.50,73.50 0 0 1 96.99,656.57 Z" fill="#b3a22b"/>
<path d="M31.50,623.20 L93.14,663.23 A73.50,73.50 0 0 1 35.35,696.60 Z" fill="#47d147"/>
<path d="M31.50,623.20 L30.30,646.17 A23.00,23.00 0 0 1 12.21,635.73 Z" fill="#5ed7cc"/>
<path d="M31.50,623.20 L10.56,633.87 A23.50,23.50 0 0 1 10.56,612.53 Z" fill="#6c9dfa"/>
<path d="M31.50,623.20 L19.84,615.63 A13.90,13.90 0 0 1 30.77,609.32 Z" fill="#f462f6"/>
<text x="120.00" y="524.00" font-size="13.55" fill="#0a0a0a" font-weight="bold" text-anchor="start" >Subcellular localization-Up</text>
<rect x="124.8" y="541.0" width="18.2" height="18.2" fill="#ec6f6f"/>
<text x="145.00" y="552.70" font-size="13.55" fill="#0a0a0a" font-weight="normal" text-anchor="start" stroke="#0a0a0a" stroke-width="0.22" >cytoplasm (47.73%)</text>
<rect x="124.8" y="569.6" width="18.2" height="18.2" fill="#b3a22b"/>
<text x="145.00" y="581.30" font-size="13.55" fill="#0a0a0a" font-weight="normal" text-anchor="start" stroke="#0a0a0a" stroke-width="0.22" >extracellular (20.45%)</text>
<rect x="124.8" y="598.2" width="18.2" height="18.2" fill="#47d147"/>
<text x="145.00" y="609.90" font-size="13.55" fill="#ee2b2b" font-weight="normal" text-anchor="start" stroke="#ee2b2b" stroke-width="0.22" >mitochondria (20.45%)</text>
<rect x="124.8" y="626.8" width="18.2" height="18.2" fill="#5ed7cc"/>
<text x="145.00" y="638.50" font-size="13.55" fill="#0a0a0a" font-weight="normal" text-anchor="start" stroke="#0a0a0a" stroke-width="0.22" >nucleus (4.55%)</text>
<rect x="124.8" y="655.4" width="18.2" height="18.2" fill="#6c9dfa"/>
<text x="145.00" y="667.10" font-size="13.55" fill="#0a0a0a" font-weight="normal" text-anchor="start" stroke="#0a0a0a" stroke-width="0.22" >plasma membrane (4.55%)</text>
<rect x="124.8" y="684.0" width="18.2" height="18.2" fill="#f462f6"/>
<text x="145.00" y="695.70" font-size="13.55" fill="#0a0a0a" font-weight="normal" text-anchor="start" stroke="#0a0a0a" stroke-width="0.22" >endoplasmic reticulum (2.27%)</text>
<text x="340.80" y="496.80" font-size="18.5" fill="#231815" font-weight="bold" text-anchor="start" >E</text>
<path d="M373.20,658.50 L377.98,552.11 A106.50,106.50 0 0 1 453.40,588.43 Z" fill="#ec6f6f"/>
<path d="M373.20,658.50 L406.37,634.40 A41.00,41.00 0 0 1 413.54,665.82 Z" fill="#bd9b2c"/>
<path d="M373.20,658.50 L398.26,665.42 A26.00,26.00 0 0 1 385.52,681.40 Z" fill="#66c62c"/>
<path d="M373.20,658.50 L383.50,682.59 A26.20,26.20 0 0 1 362.90,682.59 Z" fill="#5cd6a4"/>
<path d="M373.20,658.50 L360.88,681.40 A26.00,26.00 0 0 1 348.14,665.42 Z" fill="#5cc8ec"/>
<path d="M373.20,658.50 L357.46,661.36 A16.00,16.00 0 0 1 360.26,649.10 Z" fill="#a889f8"/>
<path d="M373.20,658.50 L361.68,648.43 A15.30,15.30 0 0 1 372.51,643.22 Z" fill="#f866f1"/>
<text x="454.30" y="516.90" font-size="13.55" fill="#0a0a0a" font-weight="bold" text-anchor="start" >Subcellular localization-Down</text>
<rect x="459.2" y="534.0" width="18.5" height="18.5" fill="#ec6f6f"/>
<text x="492.20" y="545.60" font-size="13.55" fill="#0a0a0a" font-weight="normal" text-anchor="start" stroke="#0a0a0a" stroke-width="0.22" >extracellular (60.71%)</text>
<rect x="459.2" y="562.5" width="18.5" height="18.5" fill="#bd9b2c"/>
<text x="492.20" y="574.07" font-size="13.55" fill="#0a0a0a" font-weight="normal" text-anchor="start" stroke="#0a0a0a" stroke-width="0.22" >endoplasmic reticulum (10.71%)</text>
<rect x="459.2" y="590.9" width="18.5" height="18.5" fill="#66c62c"/>
<text x="492.20" y="602.54" font-size="13.55" fill="#0a0a0a" font-weight="normal" text-anchor="start" stroke="#0a0a0a" stroke-width="0.22" >cytoplasm,nucleus (7.14%)</text>
<rect x="459.2" y="619.4" width="18.5" height="18.5" fill="#5cd6a4"/>
<text x="492.20" y="631.01" font-size="13.55" fill="#ee2b2b" font-weight="normal" text-anchor="start" stroke="#ee2b2b" stroke-width="0.22" >mitochondria (7.14%)</text>
<rect x="459.2" y="647.9" width="18.5" height="18.5" fill="#5cc8ec"/>
<text x="492.20" y="659.48" font-size="13.55" fill="#0a0a0a" font-weight="normal" text-anchor="start" stroke="#0a0a0a" stroke-width="0.22" >nucleus (7.14%)</text>
<rect x="459.2" y="676.4" width="18.5" height="18.5" fill="#a889f8"/>
<text x="492.20" y="687.95" font-size="13.55" fill="#0a0a0a" font-weight="normal" text-anchor="start" stroke="#0a0a0a" stroke-width="0.22" >Golgi apparatus (3.57%)</text>
<rect x="459.2" y="704.8" width="18.5" height="18.5" fill="#f866f1"/>
<text x="492.20" y="716.42" font-size="13.55" fill="#0a0a0a" font-weight="normal" text-anchor="start" stroke="#0a0a0a" stroke-width="0.22" >cytoplasm (3.57%)</text>
</svg></body></html>
